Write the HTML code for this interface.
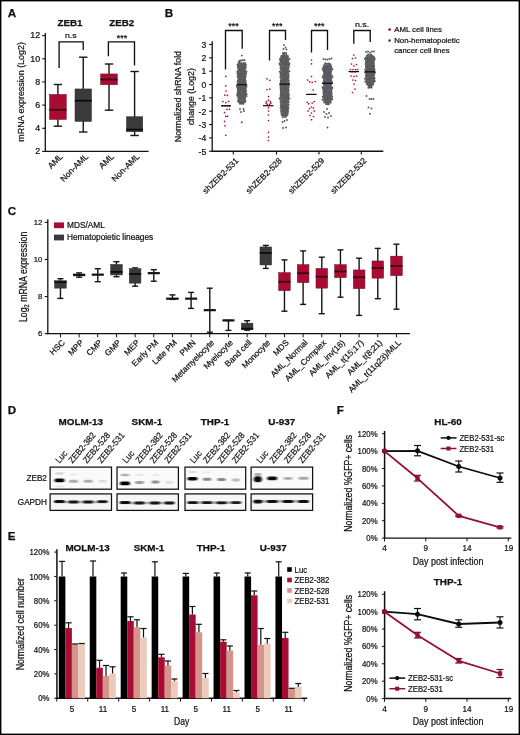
<!DOCTYPE html>
<html lang="en"><head><meta charset="utf-8"><title>Figure</title>
<style>
html,body{margin:0;padding:0;background:#fff}
body{width:520px;height:735px;overflow:hidden;position:relative}
svg{display:block;position:absolute;left:0;top:0;font-family:'Liberation Sans', sans-serif}
text{fill:#111;stroke:#111;stroke-width:.22px}
text.b{font-weight:bold;stroke-width:.25px}
</style></head><body>
<svg width="520" height="735" viewBox="0 0 520 735">
<rect x="0" y="0" width="520" height="735" fill="#fff"/>
<text transform="translate(7.7 17.2)" font-size="11.6" text-anchor="start" class="b">A</text>
<text transform="translate(164.8 17.4)" font-size="11.6" text-anchor="start" class="b">B</text>
<text transform="translate(7.7 214.9)" font-size="11.6" text-anchor="start" class="b">C</text>
<text transform="translate(7.8 413.8)" font-size="11.6" text-anchor="start" class="b">D</text>
<text transform="translate(7.8 540)" font-size="11.6" text-anchor="start" class="b">E</text>
<text transform="translate(336.7 413.6)" font-size="11.6" text-anchor="start" class="b">F</text>
<line x1="45.3" y1="33" x2="45.3" y2="152.1" stroke="#111" stroke-width="1.3"/>
<line x1="44.8" y1="151.45" x2="148.6" y2="151.45" stroke="#111" stroke-width="1.3"/>
<line x1="42.2" y1="35.6" x2="45.3" y2="35.6" stroke="#111" stroke-width="1.1"/>
<text transform="translate(40.1 38.4) scale(1.08 1)" font-size="8.2" text-anchor="end">12</text>
<line x1="42.2" y1="58.77" x2="45.3" y2="58.77" stroke="#111" stroke-width="1.1"/>
<text transform="translate(40.1 61.57) scale(1.08 1)" font-size="8.2" text-anchor="end">10</text>
<line x1="42.2" y1="81.94" x2="45.3" y2="81.94" stroke="#111" stroke-width="1.1"/>
<text transform="translate(40.1 84.74) scale(1.08 1)" font-size="8.2" text-anchor="end">8</text>
<line x1="42.2" y1="105.11" x2="45.3" y2="105.11" stroke="#111" stroke-width="1.1"/>
<text transform="translate(40.1 107.91) scale(1.08 1)" font-size="8.2" text-anchor="end">6</text>
<line x1="42.2" y1="128.28" x2="45.3" y2="128.28" stroke="#111" stroke-width="1.1"/>
<text transform="translate(40.1 131.08) scale(1.08 1)" font-size="8.2" text-anchor="end">4</text>
<line x1="42.2" y1="151.45" x2="45.3" y2="151.45" stroke="#111" stroke-width="1.1"/>
<text transform="translate(40.1 154.25) scale(1.08 1)" font-size="8.2" text-anchor="end">2</text>
<text transform="translate(24.1 91.9) rotate(-90) scale(0.96 1)" font-size="9.3" text-anchor="middle">mRNA expression (Log2)</text>
<text transform="translate(70 26.2)" font-size="9.8" text-anchor="middle" class="b">ZEB1</text>
<text transform="translate(121.7 26.2)" font-size="9.8" text-anchor="middle" class="b">ZEB2</text>
<text transform="translate(70.8 38.2) scale(1.1 1)" font-size="8" text-anchor="middle">n.s</text>
<text transform="translate(122 40.8)" font-size="9" text-anchor="middle">***</text>
<path d="M59.1 68V41.8H83.2V50" fill="none" stroke="#111" stroke-width="1.35"/>
<path d="M108.4 56.2V41.8H134.5V65.5" fill="none" stroke="#111" stroke-width="1.35"/>
<line x1="57.9" y1="84.5" x2="57.9" y2="126.2" stroke="#151515" stroke-width="1.4"/>
<line x1="53.7" y1="84.5" x2="62.1" y2="84.5" stroke="#151515" stroke-width="1.4"/>
<line x1="53.7" y1="126.2" x2="62.1" y2="126.2" stroke="#151515" stroke-width="1.4"/>
<rect x="49.55" y="94.45" width="16.7" height="25" fill="#a90c33" stroke="#7a0a26" stroke-width="0.5"/>
<line x1="49.3" y1="109.8" x2="66.5" y2="109.8" stroke="#3d0612" stroke-width="1.8"/>
<line x1="83.25" y1="57.2" x2="83.25" y2="132" stroke="#151515" stroke-width="1.4"/>
<line x1="79.05" y1="57.2" x2="87.45" y2="57.2" stroke="#151515" stroke-width="1.4"/>
<line x1="79.05" y1="132" x2="87.45" y2="132" stroke="#151515" stroke-width="1.4"/>
<rect x="75" y="88.95" width="16.5" height="32.5" fill="#3a3a3c" stroke="#2c2c2e" stroke-width="0.5"/>
<line x1="74.75" y1="100.7" x2="91.75" y2="100.7" stroke="#0c0c0c" stroke-width="1.8"/>
<line x1="109" y1="64" x2="109" y2="110.2" stroke="#151515" stroke-width="1.4"/>
<line x1="104.8" y1="64" x2="113.2" y2="64" stroke="#151515" stroke-width="1.4"/>
<line x1="104.8" y1="110.2" x2="113.2" y2="110.2" stroke="#151515" stroke-width="1.4"/>
<rect x="100.65" y="73.95" width="16.7" height="10.8" fill="#a90c33" stroke="#7a0a26" stroke-width="0.5"/>
<line x1="100.4" y1="79.5" x2="117.6" y2="79.5" stroke="#3d0612" stroke-width="1.8"/>
<line x1="134.6" y1="71.5" x2="134.6" y2="135.5" stroke="#151515" stroke-width="1.4"/>
<line x1="130.4" y1="71.5" x2="138.8" y2="71.5" stroke="#151515" stroke-width="1.4"/>
<line x1="130.4" y1="135.5" x2="138.8" y2="135.5" stroke="#151515" stroke-width="1.4"/>
<rect x="126.45" y="116.75" width="16.3" height="15" fill="#3a3a3c" stroke="#2c2c2e" stroke-width="0.5"/>
<line x1="126.2" y1="129.6" x2="143" y2="129.6" stroke="#0c0c0c" stroke-width="1.8"/>
<text transform="translate(63.4 157.1) rotate(-45)" font-size="8.4" text-anchor="end">AML</text>
<text transform="translate(88.75 157.1) rotate(-45)" font-size="8.4" text-anchor="end">Non-AML</text>
<text transform="translate(114.5 157.1) rotate(-45)" font-size="8.4" text-anchor="end">AML</text>
<text transform="translate(140.1 157.1) rotate(-45)" font-size="8.4" text-anchor="end">Non-AML</text>
<line x1="212.2" y1="41.3" x2="212.2" y2="151.9" stroke="#111" stroke-width="1.3"/>
<line x1="211.7" y1="151.25" x2="383.3" y2="151.25" stroke="#111" stroke-width="1.3"/>
<line x1="209.1" y1="44.5" x2="212.2" y2="44.5" stroke="#111" stroke-width="1.1"/>
<text transform="translate(206.2 47.8)" font-size="8.6" text-anchor="end">3</text>
<line x1="209.1" y1="57.84" x2="212.2" y2="57.84" stroke="#111" stroke-width="1.1"/>
<text transform="translate(206.2 61.14)" font-size="8.6" text-anchor="end">2</text>
<line x1="209.1" y1="71.19" x2="212.2" y2="71.19" stroke="#111" stroke-width="1.1"/>
<text transform="translate(206.2 74.49)" font-size="8.6" text-anchor="end">1</text>
<line x1="209.1" y1="84.53" x2="212.2" y2="84.53" stroke="#111" stroke-width="1.1"/>
<text transform="translate(206.2 87.83)" font-size="8.6" text-anchor="end">0</text>
<line x1="209.1" y1="97.88" x2="212.2" y2="97.88" stroke="#111" stroke-width="1.1"/>
<text transform="translate(206.2 101.18)" font-size="8.6" text-anchor="end">-1</text>
<line x1="209.1" y1="111.22" x2="212.2" y2="111.22" stroke="#111" stroke-width="1.1"/>
<text transform="translate(206.2 114.52)" font-size="8.6" text-anchor="end">-2</text>
<line x1="209.1" y1="124.56" x2="212.2" y2="124.56" stroke="#111" stroke-width="1.1"/>
<text transform="translate(206.2 127.86)" font-size="8.6" text-anchor="end">-3</text>
<line x1="209.1" y1="137.91" x2="212.2" y2="137.91" stroke="#111" stroke-width="1.1"/>
<text transform="translate(206.2 141.21)" font-size="8.6" text-anchor="end">-4</text>
<line x1="209.1" y1="151.25" x2="212.2" y2="151.25" stroke="#111" stroke-width="1.1"/>
<text transform="translate(206.2 154.55)" font-size="8.6" text-anchor="end">-5</text>
<text transform="translate(181 96.6) rotate(-90) scale(0.95 1)" font-size="9.3" text-anchor="middle">Normalized shRNA fold</text>
<text transform="translate(193.9 96.6) rotate(-90) scale(0.95 1)" font-size="9.3" text-anchor="middle">change (Log2)</text>
<line x1="233.3" y1="151.25" x2="233.3" y2="154.6" stroke="#111" stroke-width="1.1"/>
<text transform="translate(239.1 161.3) rotate(-45)" font-size="8.4" text-anchor="end">shZEB2-531</text>
<line x1="276.5" y1="151.25" x2="276.5" y2="154.6" stroke="#111" stroke-width="1.1"/>
<text transform="translate(282.3 161.3) rotate(-45)" font-size="8.4" text-anchor="end">shZEB2-528</text>
<line x1="319" y1="151.25" x2="319" y2="154.6" stroke="#111" stroke-width="1.1"/>
<text transform="translate(324.8 161.3) rotate(-45)" font-size="8.4" text-anchor="end">shZEB2-529</text>
<line x1="361.3" y1="151.25" x2="361.3" y2="154.6" stroke="#111" stroke-width="1.1"/>
<text transform="translate(367.1 161.3) rotate(-45)" font-size="8.4" text-anchor="end">shZEB2-532</text>
<path d="M225.5 69.5V30.5H242.2V48.8" fill="none" stroke="#111" stroke-width="1.35"/>
<path d="M269.5 60.5V30.5H285.5V40" fill="none" stroke="#111" stroke-width="1.35"/>
<path d="M311.5 52.5V30.5H327.5V50" fill="none" stroke="#111" stroke-width="1.35"/>
<path d="M353.8 43.8V30.5H370.2V42" fill="none" stroke="#111" stroke-width="1.35"/>
<text transform="translate(233.6 29.4)" font-size="9" text-anchor="middle">***</text>
<text transform="translate(277.2 29.4)" font-size="9" text-anchor="middle">***</text>
<text transform="translate(319.2 29.4)" font-size="9" text-anchor="middle">***</text>
<text transform="translate(362 26.9) scale(1.1 1)" font-size="8" text-anchor="middle">n.s.</text>
<circle cx="389.6" cy="29.6" r="1.35" fill="#a90c33"/>
<circle cx="389.6" cy="40.6" r="1.35" fill="#4a4b4e"/>
<text transform="translate(394.2 32.3)" font-size="7.8" text-anchor="start">AML cell lines</text>
<text transform="translate(394.2 43.3)" font-size="7.8" text-anchor="start">Non-hematopoietic</text>
<text transform="translate(394.2 52.7)" font-size="7.8" text-anchor="start">cancer cell lines</text>
<path d="M224.95 76.3a0.85 0.85 0 1 0 1.7 0a0.85 0.85 0 1 0 -1.7 0zM224.95 85.8a0.85 0.85 0 1 0 1.7 0a0.85 0.85 0 1 0 -1.7 0zM225.15 91a0.85 0.85 0 1 0 1.7 0a0.85 0.85 0 1 0 -1.7 0zM223.95 95.1a0.85 0.85 0 1 0 1.7 0a0.85 0.85 0 1 0 -1.7 0zM226.55 95.4a0.85 0.85 0 1 0 1.7 0a0.85 0.85 0 1 0 -1.7 0zM222.05 101.5a0.85 0.85 0 1 0 1.7 0a0.85 0.85 0 1 0 -1.7 0zM224.95 102.6a0.85 0.85 0 1 0 1.7 0a0.85 0.85 0 1 0 -1.7 0zM227.85 101.3a0.85 0.85 0 1 0 1.7 0a0.85 0.85 0 1 0 -1.7 0zM221.65 106a0.85 0.85 0 1 0 1.7 0a0.85 0.85 0 1 0 -1.7 0zM224.15 106a0.85 0.85 0 1 0 1.7 0a0.85 0.85 0 1 0 -1.7 0zM226.65 106a0.85 0.85 0 1 0 1.7 0a0.85 0.85 0 1 0 -1.7 0zM228.65 106a0.85 0.85 0 1 0 1.7 0a0.85 0.85 0 1 0 -1.7 0zM226.15 109.3a0.85 0.85 0 1 0 1.7 0a0.85 0.85 0 1 0 -1.7 0zM228.65 109.3a0.85 0.85 0 1 0 1.7 0a0.85 0.85 0 1 0 -1.7 0zM223.65 112.5a0.85 0.85 0 1 0 1.7 0a0.85 0.85 0 1 0 -1.7 0zM224.95 116.3a0.85 0.85 0 1 0 1.7 0a0.85 0.85 0 1 0 -1.7 0zM226.65 116.3a0.85 0.85 0 1 0 1.7 0a0.85 0.85 0 1 0 -1.7 0zM223.65 121.3a0.85 0.85 0 1 0 1.7 0a0.85 0.85 0 1 0 -1.7 0zM224.15 125.8a0.85 0.85 0 1 0 1.7 0a0.85 0.85 0 1 0 -1.7 0zM224.95 135.3a0.85 0.85 0 1 0 1.7 0a0.85 0.85 0 1 0 -1.7 0z" fill="#a90c33"/>
<rect x="237.6" y="64" width="8.4" height="39.5" rx="2.5" fill="#66676a" opacity="0.85"/>
<path d="M238.25 60.59a0.95 0.95 0 1 0 1.9 0a0.95 0.95 0 1 0 -1.9 0zM239.83 60.52a0.95 0.95 0 1 0 1.9 0a0.95 0.95 0 1 0 -1.9 0zM241.59 60.23a0.95 0.95 0 1 0 1.9 0a0.95 0.95 0 1 0 -1.9 0zM243.28 60.22a0.95 0.95 0 1 0 1.9 0a0.95 0.95 0 1 0 -1.9 0zM237.39 62.75a0.95 0.95 0 1 0 1.9 0a0.95 0.95 0 1 0 -1.9 0zM239.19 63.2a0.95 0.95 0 1 0 1.9 0a0.95 0.95 0 1 0 -1.9 0zM240.66 62.83a0.95 0.95 0 1 0 1.9 0a0.95 0.95 0 1 0 -1.9 0zM242.53 63.27a0.95 0.95 0 1 0 1.9 0a0.95 0.95 0 1 0 -1.9 0zM244.13 62.94a0.95 0.95 0 1 0 1.9 0a0.95 0.95 0 1 0 -1.9 0zM236.57 64.72a0.95 0.95 0 1 0 1.9 0a0.95 0.95 0 1 0 -1.9 0zM238.31 64.29a0.95 0.95 0 1 0 1.9 0a0.95 0.95 0 1 0 -1.9 0zM239.85 64.39a0.95 0.95 0 1 0 1.9 0a0.95 0.95 0 1 0 -1.9 0zM241.82 64.31a0.95 0.95 0 1 0 1.9 0a0.95 0.95 0 1 0 -1.9 0zM243.32 64.58a0.95 0.95 0 1 0 1.9 0a0.95 0.95 0 1 0 -1.9 0zM244.84 64.53a0.95 0.95 0 1 0 1.9 0a0.95 0.95 0 1 0 -1.9 0zM237.39 65.82a0.95 0.95 0 1 0 1.9 0a0.95 0.95 0 1 0 -1.9 0zM239.32 65.96a0.95 0.95 0 1 0 1.9 0a0.95 0.95 0 1 0 -1.9 0zM240.76 66.05a0.95 0.95 0 1 0 1.9 0a0.95 0.95 0 1 0 -1.9 0zM242.45 65.88a0.95 0.95 0 1 0 1.9 0a0.95 0.95 0 1 0 -1.9 0zM244.24 66.12a0.95 0.95 0 1 0 1.9 0a0.95 0.95 0 1 0 -1.9 0zM236.84 66.02a0.95 0.95 0 1 0 1.9 0a0.95 0.95 0 1 0 -1.9 0zM238.61 66.14a0.95 0.95 0 1 0 1.9 0a0.95 0.95 0 1 0 -1.9 0zM239.93 66.29a0.95 0.95 0 1 0 1.9 0a0.95 0.95 0 1 0 -1.9 0zM241.47 65.95a0.95 0.95 0 1 0 1.9 0a0.95 0.95 0 1 0 -1.9 0zM243.41 65.79a0.95 0.95 0 1 0 1.9 0a0.95 0.95 0 1 0 -1.9 0zM244.89 65.72a0.95 0.95 0 1 0 1.9 0a0.95 0.95 0 1 0 -1.9 0zM236.93 67.54a0.95 0.95 0 1 0 1.9 0a0.95 0.95 0 1 0 -1.9 0zM238.61 67.39a0.95 0.95 0 1 0 1.9 0a0.95 0.95 0 1 0 -1.9 0zM240.14 67.56a0.95 0.95 0 1 0 1.9 0a0.95 0.95 0 1 0 -1.9 0zM241.7 67.47a0.95 0.95 0 1 0 1.9 0a0.95 0.95 0 1 0 -1.9 0zM243.45 67.77a0.95 0.95 0 1 0 1.9 0a0.95 0.95 0 1 0 -1.9 0zM244.89 67.6a0.95 0.95 0 1 0 1.9 0a0.95 0.95 0 1 0 -1.9 0zM237.71 69.09a0.95 0.95 0 1 0 1.9 0a0.95 0.95 0 1 0 -1.9 0zM239.48 69.19a0.95 0.95 0 1 0 1.9 0a0.95 0.95 0 1 0 -1.9 0zM240.74 68.93a0.95 0.95 0 1 0 1.9 0a0.95 0.95 0 1 0 -1.9 0zM242.55 68.71a0.95 0.95 0 1 0 1.9 0a0.95 0.95 0 1 0 -1.9 0zM244.07 68.8a0.95 0.95 0 1 0 1.9 0a0.95 0.95 0 1 0 -1.9 0zM237.39 70.66a0.95 0.95 0 1 0 1.9 0a0.95 0.95 0 1 0 -1.9 0zM239.04 70.35a0.95 0.95 0 1 0 1.9 0a0.95 0.95 0 1 0 -1.9 0zM240.8 70.72a0.95 0.95 0 1 0 1.9 0a0.95 0.95 0 1 0 -1.9 0zM242.26 70.47a0.95 0.95 0 1 0 1.9 0a0.95 0.95 0 1 0 -1.9 0zM244.11 70.73a0.95 0.95 0 1 0 1.9 0a0.95 0.95 0 1 0 -1.9 0zM236.17 71.87a0.95 0.95 0 1 0 1.9 0a0.95 0.95 0 1 0 -1.9 0zM237.57 71.92a0.95 0.95 0 1 0 1.9 0a0.95 0.95 0 1 0 -1.9 0zM239.42 72.27a0.95 0.95 0 1 0 1.9 0a0.95 0.95 0 1 0 -1.9 0zM240.68 71.81a0.95 0.95 0 1 0 1.9 0a0.95 0.95 0 1 0 -1.9 0zM242.34 71.84a0.95 0.95 0 1 0 1.9 0a0.95 0.95 0 1 0 -1.9 0zM244.08 72.05a0.95 0.95 0 1 0 1.9 0a0.95 0.95 0 1 0 -1.9 0zM245.59 71.7a0.95 0.95 0 1 0 1.9 0a0.95 0.95 0 1 0 -1.9 0zM236.73 73.54a0.95 0.95 0 1 0 1.9 0a0.95 0.95 0 1 0 -1.9 0zM238.65 73.61a0.95 0.95 0 1 0 1.9 0a0.95 0.95 0 1 0 -1.9 0zM240.05 73.57a0.95 0.95 0 1 0 1.9 0a0.95 0.95 0 1 0 -1.9 0zM241.75 73.23a0.95 0.95 0 1 0 1.9 0a0.95 0.95 0 1 0 -1.9 0zM243.48 73.67a0.95 0.95 0 1 0 1.9 0a0.95 0.95 0 1 0 -1.9 0zM245.09 73.68a0.95 0.95 0 1 0 1.9 0a0.95 0.95 0 1 0 -1.9 0zM236.75 74.76a0.95 0.95 0 1 0 1.9 0a0.95 0.95 0 1 0 -1.9 0zM238.49 74.74a0.95 0.95 0 1 0 1.9 0a0.95 0.95 0 1 0 -1.9 0zM239.82 74.83a0.95 0.95 0 1 0 1.9 0a0.95 0.95 0 1 0 -1.9 0zM241.49 74.9a0.95 0.95 0 1 0 1.9 0a0.95 0.95 0 1 0 -1.9 0zM243.06 74.7a0.95 0.95 0 1 0 1.9 0a0.95 0.95 0 1 0 -1.9 0zM244.73 74.76a0.95 0.95 0 1 0 1.9 0a0.95 0.95 0 1 0 -1.9 0zM236.56 76.72a0.95 0.95 0 1 0 1.9 0a0.95 0.95 0 1 0 -1.9 0zM238.48 76.29a0.95 0.95 0 1 0 1.9 0a0.95 0.95 0 1 0 -1.9 0zM239.92 76.41a0.95 0.95 0 1 0 1.9 0a0.95 0.95 0 1 0 -1.9 0zM241.59 76.27a0.95 0.95 0 1 0 1.9 0a0.95 0.95 0 1 0 -1.9 0zM243.45 76.8a0.95 0.95 0 1 0 1.9 0a0.95 0.95 0 1 0 -1.9 0zM244.88 76.49a0.95 0.95 0 1 0 1.9 0a0.95 0.95 0 1 0 -1.9 0zM237.41 77.91a0.95 0.95 0 1 0 1.9 0a0.95 0.95 0 1 0 -1.9 0zM239.11 78.2a0.95 0.95 0 1 0 1.9 0a0.95 0.95 0 1 0 -1.9 0zM240.68 77.71a0.95 0.95 0 1 0 1.9 0a0.95 0.95 0 1 0 -1.9 0zM242.7 78.02a0.95 0.95 0 1 0 1.9 0a0.95 0.95 0 1 0 -1.9 0zM243.91 78.03a0.95 0.95 0 1 0 1.9 0a0.95 0.95 0 1 0 -1.9 0zM237.62 79.79a0.95 0.95 0 1 0 1.9 0a0.95 0.95 0 1 0 -1.9 0zM239.41 79.62a0.95 0.95 0 1 0 1.9 0a0.95 0.95 0 1 0 -1.9 0zM240.73 79.42a0.95 0.95 0 1 0 1.9 0a0.95 0.95 0 1 0 -1.9 0zM242.3 79.66a0.95 0.95 0 1 0 1.9 0a0.95 0.95 0 1 0 -1.9 0zM244.11 79.67a0.95 0.95 0 1 0 1.9 0a0.95 0.95 0 1 0 -1.9 0zM236.66 81.19a0.95 0.95 0 1 0 1.9 0a0.95 0.95 0 1 0 -1.9 0zM238.66 81.21a0.95 0.95 0 1 0 1.9 0a0.95 0.95 0 1 0 -1.9 0zM240.19 81.19a0.95 0.95 0 1 0 1.9 0a0.95 0.95 0 1 0 -1.9 0zM241.78 80.84a0.95 0.95 0 1 0 1.9 0a0.95 0.95 0 1 0 -1.9 0zM243.29 80.91a0.95 0.95 0 1 0 1.9 0a0.95 0.95 0 1 0 -1.9 0zM244.66 80.72a0.95 0.95 0 1 0 1.9 0a0.95 0.95 0 1 0 -1.9 0zM236.68 82.62a0.95 0.95 0 1 0 1.9 0a0.95 0.95 0 1 0 -1.9 0zM238.65 82.47a0.95 0.95 0 1 0 1.9 0a0.95 0.95 0 1 0 -1.9 0zM240.26 82.79a0.95 0.95 0 1 0 1.9 0a0.95 0.95 0 1 0 -1.9 0zM241.89 82.42a0.95 0.95 0 1 0 1.9 0a0.95 0.95 0 1 0 -1.9 0zM243.14 82.34a0.95 0.95 0 1 0 1.9 0a0.95 0.95 0 1 0 -1.9 0zM244.75 82.32a0.95 0.95 0 1 0 1.9 0a0.95 0.95 0 1 0 -1.9 0zM237 84.2a0.95 0.95 0 1 0 1.9 0a0.95 0.95 0 1 0 -1.9 0zM238.41 84.09a0.95 0.95 0 1 0 1.9 0a0.95 0.95 0 1 0 -1.9 0zM240.19 83.75a0.95 0.95 0 1 0 1.9 0a0.95 0.95 0 1 0 -1.9 0zM241.74 84.25a0.95 0.95 0 1 0 1.9 0a0.95 0.95 0 1 0 -1.9 0zM243.42 84.15a0.95 0.95 0 1 0 1.9 0a0.95 0.95 0 1 0 -1.9 0zM244.89 83.81a0.95 0.95 0 1 0 1.9 0a0.95 0.95 0 1 0 -1.9 0zM235.91 85.68a0.95 0.95 0 1 0 1.9 0a0.95 0.95 0 1 0 -1.9 0zM237.85 85.44a0.95 0.95 0 1 0 1.9 0a0.95 0.95 0 1 0 -1.9 0zM239.18 85.77a0.95 0.95 0 1 0 1.9 0a0.95 0.95 0 1 0 -1.9 0zM240.96 85.3a0.95 0.95 0 1 0 1.9 0a0.95 0.95 0 1 0 -1.9 0zM242.28 85.29a0.95 0.95 0 1 0 1.9 0a0.95 0.95 0 1 0 -1.9 0zM244.29 85.68a0.95 0.95 0 1 0 1.9 0a0.95 0.95 0 1 0 -1.9 0zM245.53 85.7a0.95 0.95 0 1 0 1.9 0a0.95 0.95 0 1 0 -1.9 0zM236.07 86.91a0.95 0.95 0 1 0 1.9 0a0.95 0.95 0 1 0 -1.9 0zM237.63 86.78a0.95 0.95 0 1 0 1.9 0a0.95 0.95 0 1 0 -1.9 0zM238.99 87.28a0.95 0.95 0 1 0 1.9 0a0.95 0.95 0 1 0 -1.9 0zM240.92 87.02a0.95 0.95 0 1 0 1.9 0a0.95 0.95 0 1 0 -1.9 0zM242.69 86.96a0.95 0.95 0 1 0 1.9 0a0.95 0.95 0 1 0 -1.9 0zM244.28 87.2a0.95 0.95 0 1 0 1.9 0a0.95 0.95 0 1 0 -1.9 0zM245.57 86.85a0.95 0.95 0 1 0 1.9 0a0.95 0.95 0 1 0 -1.9 0zM236.67 88.55a0.95 0.95 0 1 0 1.9 0a0.95 0.95 0 1 0 -1.9 0zM238.3 88.45a0.95 0.95 0 1 0 1.9 0a0.95 0.95 0 1 0 -1.9 0zM239.86 88.75a0.95 0.95 0 1 0 1.9 0a0.95 0.95 0 1 0 -1.9 0zM241.59 88.47a0.95 0.95 0 1 0 1.9 0a0.95 0.95 0 1 0 -1.9 0zM243.32 88.74a0.95 0.95 0 1 0 1.9 0a0.95 0.95 0 1 0 -1.9 0zM244.86 88.75a0.95 0.95 0 1 0 1.9 0a0.95 0.95 0 1 0 -1.9 0zM236.82 90.01a0.95 0.95 0 1 0 1.9 0a0.95 0.95 0 1 0 -1.9 0zM238.18 89.96a0.95 0.95 0 1 0 1.9 0a0.95 0.95 0 1 0 -1.9 0zM239.88 89.7a0.95 0.95 0 1 0 1.9 0a0.95 0.95 0 1 0 -1.9 0zM241.81 89.8a0.95 0.95 0 1 0 1.9 0a0.95 0.95 0 1 0 -1.9 0zM243.27 90.14a0.95 0.95 0 1 0 1.9 0a0.95 0.95 0 1 0 -1.9 0zM244.93 89.9a0.95 0.95 0 1 0 1.9 0a0.95 0.95 0 1 0 -1.9 0zM236.83 91.67a0.95 0.95 0 1 0 1.9 0a0.95 0.95 0 1 0 -1.9 0zM238.22 91.54a0.95 0.95 0 1 0 1.9 0a0.95 0.95 0 1 0 -1.9 0zM239.91 91.37a0.95 0.95 0 1 0 1.9 0a0.95 0.95 0 1 0 -1.9 0zM241.8 91.5a0.95 0.95 0 1 0 1.9 0a0.95 0.95 0 1 0 -1.9 0zM243.31 91.66a0.95 0.95 0 1 0 1.9 0a0.95 0.95 0 1 0 -1.9 0zM245.11 91.47a0.95 0.95 0 1 0 1.9 0a0.95 0.95 0 1 0 -1.9 0zM236.8 93.01a0.95 0.95 0 1 0 1.9 0a0.95 0.95 0 1 0 -1.9 0zM238.52 92.97a0.95 0.95 0 1 0 1.9 0a0.95 0.95 0 1 0 -1.9 0zM240.06 92.99a0.95 0.95 0 1 0 1.9 0a0.95 0.95 0 1 0 -1.9 0zM241.88 93.12a0.95 0.95 0 1 0 1.9 0a0.95 0.95 0 1 0 -1.9 0zM243.47 93.27a0.95 0.95 0 1 0 1.9 0a0.95 0.95 0 1 0 -1.9 0zM244.78 93.04a0.95 0.95 0 1 0 1.9 0a0.95 0.95 0 1 0 -1.9 0zM236.16 94.28a0.95 0.95 0 1 0 1.9 0a0.95 0.95 0 1 0 -1.9 0zM237.42 94.47a0.95 0.95 0 1 0 1.9 0a0.95 0.95 0 1 0 -1.9 0zM239.02 94.34a0.95 0.95 0 1 0 1.9 0a0.95 0.95 0 1 0 -1.9 0zM240.64 94.6a0.95 0.95 0 1 0 1.9 0a0.95 0.95 0 1 0 -1.9 0zM242.61 94.74a0.95 0.95 0 1 0 1.9 0a0.95 0.95 0 1 0 -1.9 0zM243.92 94.63a0.95 0.95 0 1 0 1.9 0a0.95 0.95 0 1 0 -1.9 0zM245.79 94.29a0.95 0.95 0 1 0 1.9 0a0.95 0.95 0 1 0 -1.9 0zM236.22 95.83a0.95 0.95 0 1 0 1.9 0a0.95 0.95 0 1 0 -1.9 0zM237.84 95.94a0.95 0.95 0 1 0 1.9 0a0.95 0.95 0 1 0 -1.9 0zM239.22 96.29a0.95 0.95 0 1 0 1.9 0a0.95 0.95 0 1 0 -1.9 0zM241.02 95.8a0.95 0.95 0 1 0 1.9 0a0.95 0.95 0 1 0 -1.9 0zM242.44 96.01a0.95 0.95 0 1 0 1.9 0a0.95 0.95 0 1 0 -1.9 0zM244.01 95.82a0.95 0.95 0 1 0 1.9 0a0.95 0.95 0 1 0 -1.9 0zM245.62 96.13a0.95 0.95 0 1 0 1.9 0a0.95 0.95 0 1 0 -1.9 0zM237.64 97.46a0.95 0.95 0 1 0 1.9 0a0.95 0.95 0 1 0 -1.9 0zM238.99 97.4a0.95 0.95 0 1 0 1.9 0a0.95 0.95 0 1 0 -1.9 0zM240.91 97.51a0.95 0.95 0 1 0 1.9 0a0.95 0.95 0 1 0 -1.9 0zM242.25 97.79a0.95 0.95 0 1 0 1.9 0a0.95 0.95 0 1 0 -1.9 0zM244.23 97.78a0.95 0.95 0 1 0 1.9 0a0.95 0.95 0 1 0 -1.9 0zM237.49 98.72a0.95 0.95 0 1 0 1.9 0a0.95 0.95 0 1 0 -1.9 0zM239.37 98.86a0.95 0.95 0 1 0 1.9 0a0.95 0.95 0 1 0 -1.9 0zM240.66 98.95a0.95 0.95 0 1 0 1.9 0a0.95 0.95 0 1 0 -1.9 0zM242.68 99.19a0.95 0.95 0 1 0 1.9 0a0.95 0.95 0 1 0 -1.9 0zM243.97 98.79a0.95 0.95 0 1 0 1.9 0a0.95 0.95 0 1 0 -1.9 0zM236.84 101.12a0.95 0.95 0 1 0 1.9 0a0.95 0.95 0 1 0 -1.9 0zM238.21 100.73a0.95 0.95 0 1 0 1.9 0a0.95 0.95 0 1 0 -1.9 0zM240.13 100.96a0.95 0.95 0 1 0 1.9 0a0.95 0.95 0 1 0 -1.9 0zM241.45 101.26a0.95 0.95 0 1 0 1.9 0a0.95 0.95 0 1 0 -1.9 0zM243.35 101.18a0.95 0.95 0 1 0 1.9 0a0.95 0.95 0 1 0 -1.9 0zM244.69 101.21a0.95 0.95 0 1 0 1.9 0a0.95 0.95 0 1 0 -1.9 0zM238.6 102.47a0.95 0.95 0 1 0 1.9 0a0.95 0.95 0 1 0 -1.9 0zM239.96 102.53a0.95 0.95 0 1 0 1.9 0a0.95 0.95 0 1 0 -1.9 0zM241.87 102.36a0.95 0.95 0 1 0 1.9 0a0.95 0.95 0 1 0 -1.9 0zM243.09 102.52a0.95 0.95 0 1 0 1.9 0a0.95 0.95 0 1 0 -1.9 0zM239.03 103.8a0.95 0.95 0 1 0 1.9 0a0.95 0.95 0 1 0 -1.9 0zM240.63 103.82a0.95 0.95 0 1 0 1.9 0a0.95 0.95 0 1 0 -1.9 0zM242.38 103.88a0.95 0.95 0 1 0 1.9 0a0.95 0.95 0 1 0 -1.9 0zM240.85 55.5a0.95 0.95 0 1 0 1.9 0a0.95 0.95 0 1 0 -1.9 0zM239.05 109a0.95 0.95 0 1 0 1.9 0a0.95 0.95 0 1 0 -1.9 0zM242.55 109a0.95 0.95 0 1 0 1.9 0a0.95 0.95 0 1 0 -1.9 0zM240.05 112a0.95 0.95 0 1 0 1.9 0a0.95 0.95 0 1 0 -1.9 0zM243.05 111a0.95 0.95 0 1 0 1.9 0a0.95 0.95 0 1 0 -1.9 0zM240.85 122.3a0.95 0.95 0 1 0 1.9 0a0.95 0.95 0 1 0 -1.9 0zM238.55 62a0.95 0.95 0 1 0 1.9 0a0.95 0.95 0 1 0 -1.9 0zM243.55 60a0.95 0.95 0 1 0 1.9 0a0.95 0.95 0 1 0 -1.9 0z" fill="#58595c"/>
<line x1="221" y1="105.7" x2="231" y2="105.7" stroke="#14080b" stroke-width="1.2"/>
<line x1="236.6" y1="84.6" x2="247" y2="84.6" stroke="#111" stroke-width="1.35"/>
<path d="M266.15 78.8a0.85 0.85 0 1 0 1.7 0a0.85 0.85 0 1 0 -1.7 0zM269.05 80.3a0.85 0.85 0 1 0 1.7 0a0.85 0.85 0 1 0 -1.7 0zM266.15 89.5a0.85 0.85 0 1 0 1.7 0a0.85 0.85 0 1 0 -1.7 0zM269.05 89.2a0.85 0.85 0 1 0 1.7 0a0.85 0.85 0 1 0 -1.7 0zM267.65 96.6a0.85 0.85 0 1 0 1.7 0a0.85 0.85 0 1 0 -1.7 0zM267.65 100.2a0.85 0.85 0 1 0 1.7 0a0.85 0.85 0 1 0 -1.7 0zM265.65 101.5a0.85 0.85 0 1 0 1.7 0a0.85 0.85 0 1 0 -1.7 0zM269.55 101.5a0.85 0.85 0 1 0 1.7 0a0.85 0.85 0 1 0 -1.7 0zM265.15 103.1a0.85 0.85 0 1 0 1.7 0a0.85 0.85 0 1 0 -1.7 0zM270.05 103.1a0.85 0.85 0 1 0 1.7 0a0.85 0.85 0 1 0 -1.7 0zM266.45 104.3a0.85 0.85 0 1 0 1.7 0a0.85 0.85 0 1 0 -1.7 0zM268.75 104.3a0.85 0.85 0 1 0 1.7 0a0.85 0.85 0 1 0 -1.7 0zM267.65 107.7a0.85 0.85 0 1 0 1.7 0a0.85 0.85 0 1 0 -1.7 0zM267.65 111a0.85 0.85 0 1 0 1.7 0a0.85 0.85 0 1 0 -1.7 0zM267.65 115a0.85 0.85 0 1 0 1.7 0a0.85 0.85 0 1 0 -1.7 0zM267.65 120.5a0.85 0.85 0 1 0 1.7 0a0.85 0.85 0 1 0 -1.7 0zM267.65 132.3a0.85 0.85 0 1 0 1.7 0a0.85 0.85 0 1 0 -1.7 0zM267.65 137a0.85 0.85 0 1 0 1.7 0a0.85 0.85 0 1 0 -1.7 0zM267.65 140.5a0.85 0.85 0 1 0 1.7 0a0.85 0.85 0 1 0 -1.7 0z" fill="#a90c33"/>
<rect x="280.4" y="55" width="8.4" height="61" rx="2.5" fill="#66676a" opacity="0.85"/>
<path d="M281.92 53a0.95 0.95 0 1 0 1.9 0a0.95 0.95 0 1 0 -1.9 0zM283.49 52.91a0.95 0.95 0 1 0 1.9 0a0.95 0.95 0 1 0 -1.9 0zM285.03 52.85a0.95 0.95 0 1 0 1.9 0a0.95 0.95 0 1 0 -1.9 0zM282.15 54.53a0.95 0.95 0 1 0 1.9 0a0.95 0.95 0 1 0 -1.9 0zM283.49 54.48a0.95 0.95 0 1 0 1.9 0a0.95 0.95 0 1 0 -1.9 0zM285.49 54.26a0.95 0.95 0 1 0 1.9 0a0.95 0.95 0 1 0 -1.9 0zM280.38 56a0.95 0.95 0 1 0 1.9 0a0.95 0.95 0 1 0 -1.9 0zM282.2 55.94a0.95 0.95 0 1 0 1.9 0a0.95 0.95 0 1 0 -1.9 0zM283.65 56.11a0.95 0.95 0 1 0 1.9 0a0.95 0.95 0 1 0 -1.9 0zM285.51 55.91a0.95 0.95 0 1 0 1.9 0a0.95 0.95 0 1 0 -1.9 0zM287.06 56.12a0.95 0.95 0 1 0 1.9 0a0.95 0.95 0 1 0 -1.9 0zM280.36 57.41a0.95 0.95 0 1 0 1.9 0a0.95 0.95 0 1 0 -1.9 0zM281.81 57.28a0.95 0.95 0 1 0 1.9 0a0.95 0.95 0 1 0 -1.9 0zM283.44 57.64a0.95 0.95 0 1 0 1.9 0a0.95 0.95 0 1 0 -1.9 0zM285.15 57.3a0.95 0.95 0 1 0 1.9 0a0.95 0.95 0 1 0 -1.9 0zM286.68 57.7a0.95 0.95 0 1 0 1.9 0a0.95 0.95 0 1 0 -1.9 0zM278.88 58.87a0.95 0.95 0 1 0 1.9 0a0.95 0.95 0 1 0 -1.9 0zM280.28 58.88a0.95 0.95 0 1 0 1.9 0a0.95 0.95 0 1 0 -1.9 0zM282.01 58.79a0.95 0.95 0 1 0 1.9 0a0.95 0.95 0 1 0 -1.9 0zM283.62 58.86a0.95 0.95 0 1 0 1.9 0a0.95 0.95 0 1 0 -1.9 0zM285.5 59.28a0.95 0.95 0 1 0 1.9 0a0.95 0.95 0 1 0 -1.9 0zM286.91 58.85a0.95 0.95 0 1 0 1.9 0a0.95 0.95 0 1 0 -1.9 0zM288.74 58.89a0.95 0.95 0 1 0 1.9 0a0.95 0.95 0 1 0 -1.9 0zM279.35 60.43a0.95 0.95 0 1 0 1.9 0a0.95 0.95 0 1 0 -1.9 0zM281.21 60.5a0.95 0.95 0 1 0 1.9 0a0.95 0.95 0 1 0 -1.9 0zM282.69 60.5a0.95 0.95 0 1 0 1.9 0a0.95 0.95 0 1 0 -1.9 0zM284.21 60.36a0.95 0.95 0 1 0 1.9 0a0.95 0.95 0 1 0 -1.9 0zM285.87 60.44a0.95 0.95 0 1 0 1.9 0a0.95 0.95 0 1 0 -1.9 0zM287.47 60.21a0.95 0.95 0 1 0 1.9 0a0.95 0.95 0 1 0 -1.9 0zM279.47 62.05a0.95 0.95 0 1 0 1.9 0a0.95 0.95 0 1 0 -1.9 0zM281.23 62.15a0.95 0.95 0 1 0 1.9 0a0.95 0.95 0 1 0 -1.9 0zM282.92 62.13a0.95 0.95 0 1 0 1.9 0a0.95 0.95 0 1 0 -1.9 0zM284.65 61.93a0.95 0.95 0 1 0 1.9 0a0.95 0.95 0 1 0 -1.9 0zM285.99 62.29a0.95 0.95 0 1 0 1.9 0a0.95 0.95 0 1 0 -1.9 0zM287.52 62.13a0.95 0.95 0 1 0 1.9 0a0.95 0.95 0 1 0 -1.9 0zM278.56 63.7a0.95 0.95 0 1 0 1.9 0a0.95 0.95 0 1 0 -1.9 0zM280.61 63.58a0.95 0.95 0 1 0 1.9 0a0.95 0.95 0 1 0 -1.9 0zM282.15 63.69a0.95 0.95 0 1 0 1.9 0a0.95 0.95 0 1 0 -1.9 0zM283.47 63.51a0.95 0.95 0 1 0 1.9 0a0.95 0.95 0 1 0 -1.9 0zM285.27 63.7a0.95 0.95 0 1 0 1.9 0a0.95 0.95 0 1 0 -1.9 0zM287.04 63.7a0.95 0.95 0 1 0 1.9 0a0.95 0.95 0 1 0 -1.9 0zM288.55 63.74a0.95 0.95 0 1 0 1.9 0a0.95 0.95 0 1 0 -1.9 0zM278.89 64.84a0.95 0.95 0 1 0 1.9 0a0.95 0.95 0 1 0 -1.9 0zM280.18 64.78a0.95 0.95 0 1 0 1.9 0a0.95 0.95 0 1 0 -1.9 0zM281.96 64.76a0.95 0.95 0 1 0 1.9 0a0.95 0.95 0 1 0 -1.9 0zM283.82 65.04a0.95 0.95 0 1 0 1.9 0a0.95 0.95 0 1 0 -1.9 0zM285.33 65.08a0.95 0.95 0 1 0 1.9 0a0.95 0.95 0 1 0 -1.9 0zM286.98 64.99a0.95 0.95 0 1 0 1.9 0a0.95 0.95 0 1 0 -1.9 0zM288.26 65.18a0.95 0.95 0 1 0 1.9 0a0.95 0.95 0 1 0 -1.9 0zM279.6 67.02a0.95 0.95 0 1 0 1.9 0a0.95 0.95 0 1 0 -1.9 0zM281.3 66.74a0.95 0.95 0 1 0 1.9 0a0.95 0.95 0 1 0 -1.9 0zM282.96 66.85a0.95 0.95 0 1 0 1.9 0a0.95 0.95 0 1 0 -1.9 0zM284.25 66.86a0.95 0.95 0 1 0 1.9 0a0.95 0.95 0 1 0 -1.9 0zM286.19 66.82a0.95 0.95 0 1 0 1.9 0a0.95 0.95 0 1 0 -1.9 0zM287.82 67.29a0.95 0.95 0 1 0 1.9 0a0.95 0.95 0 1 0 -1.9 0zM279.54 68.49a0.95 0.95 0 1 0 1.9 0a0.95 0.95 0 1 0 -1.9 0zM281.31 68.66a0.95 0.95 0 1 0 1.9 0a0.95 0.95 0 1 0 -1.9 0zM282.9 68.59a0.95 0.95 0 1 0 1.9 0a0.95 0.95 0 1 0 -1.9 0zM284.25 68.29a0.95 0.95 0 1 0 1.9 0a0.95 0.95 0 1 0 -1.9 0zM285.96 68.65a0.95 0.95 0 1 0 1.9 0a0.95 0.95 0 1 0 -1.9 0zM287.6 68.54a0.95 0.95 0 1 0 1.9 0a0.95 0.95 0 1 0 -1.9 0zM280.19 69.86a0.95 0.95 0 1 0 1.9 0a0.95 0.95 0 1 0 -1.9 0zM282.12 70.12a0.95 0.95 0 1 0 1.9 0a0.95 0.95 0 1 0 -1.9 0zM283.74 69.87a0.95 0.95 0 1 0 1.9 0a0.95 0.95 0 1 0 -1.9 0zM285.28 69.98a0.95 0.95 0 1 0 1.9 0a0.95 0.95 0 1 0 -1.9 0zM286.87 69.77a0.95 0.95 0 1 0 1.9 0a0.95 0.95 0 1 0 -1.9 0zM278.64 71.79a0.95 0.95 0 1 0 1.9 0a0.95 0.95 0 1 0 -1.9 0zM280.63 71.21a0.95 0.95 0 1 0 1.9 0a0.95 0.95 0 1 0 -1.9 0zM282.01 71.69a0.95 0.95 0 1 0 1.9 0a0.95 0.95 0 1 0 -1.9 0zM283.88 71.47a0.95 0.95 0 1 0 1.9 0a0.95 0.95 0 1 0 -1.9 0zM285.15 71.33a0.95 0.95 0 1 0 1.9 0a0.95 0.95 0 1 0 -1.9 0zM287.11 71.33a0.95 0.95 0 1 0 1.9 0a0.95 0.95 0 1 0 -1.9 0zM288.55 71.29a0.95 0.95 0 1 0 1.9 0a0.95 0.95 0 1 0 -1.9 0zM279.83 72.78a0.95 0.95 0 1 0 1.9 0a0.95 0.95 0 1 0 -1.9 0zM281.38 73.01a0.95 0.95 0 1 0 1.9 0a0.95 0.95 0 1 0 -1.9 0zM283.03 73.12a0.95 0.95 0 1 0 1.9 0a0.95 0.95 0 1 0 -1.9 0zM284.33 73.24a0.95 0.95 0 1 0 1.9 0a0.95 0.95 0 1 0 -1.9 0zM286.07 72.71a0.95 0.95 0 1 0 1.9 0a0.95 0.95 0 1 0 -1.9 0zM287.45 73a0.95 0.95 0 1 0 1.9 0a0.95 0.95 0 1 0 -1.9 0zM279.5 74.28a0.95 0.95 0 1 0 1.9 0a0.95 0.95 0 1 0 -1.9 0zM281.14 74.39a0.95 0.95 0 1 0 1.9 0a0.95 0.95 0 1 0 -1.9 0zM283.01 74.2a0.95 0.95 0 1 0 1.9 0a0.95 0.95 0 1 0 -1.9 0zM284.59 74.7a0.95 0.95 0 1 0 1.9 0a0.95 0.95 0 1 0 -1.9 0zM285.89 74.76a0.95 0.95 0 1 0 1.9 0a0.95 0.95 0 1 0 -1.9 0zM287.81 74.74a0.95 0.95 0 1 0 1.9 0a0.95 0.95 0 1 0 -1.9 0zM279.54 75.94a0.95 0.95 0 1 0 1.9 0a0.95 0.95 0 1 0 -1.9 0zM281.47 76.05a0.95 0.95 0 1 0 1.9 0a0.95 0.95 0 1 0 -1.9 0zM282.77 75.96a0.95 0.95 0 1 0 1.9 0a0.95 0.95 0 1 0 -1.9 0zM284.35 75.73a0.95 0.95 0 1 0 1.9 0a0.95 0.95 0 1 0 -1.9 0zM285.88 76.2a0.95 0.95 0 1 0 1.9 0a0.95 0.95 0 1 0 -1.9 0zM287.59 76.26a0.95 0.95 0 1 0 1.9 0a0.95 0.95 0 1 0 -1.9 0zM279.48 77.51a0.95 0.95 0 1 0 1.9 0a0.95 0.95 0 1 0 -1.9 0zM281.06 77.42a0.95 0.95 0 1 0 1.9 0a0.95 0.95 0 1 0 -1.9 0zM283.07 77.73a0.95 0.95 0 1 0 1.9 0a0.95 0.95 0 1 0 -1.9 0zM284.62 77.58a0.95 0.95 0 1 0 1.9 0a0.95 0.95 0 1 0 -1.9 0zM286.29 77.76a0.95 0.95 0 1 0 1.9 0a0.95 0.95 0 1 0 -1.9 0zM287.72 77.63a0.95 0.95 0 1 0 1.9 0a0.95 0.95 0 1 0 -1.9 0zM280.53 78.97a0.95 0.95 0 1 0 1.9 0a0.95 0.95 0 1 0 -1.9 0zM282.16 79.09a0.95 0.95 0 1 0 1.9 0a0.95 0.95 0 1 0 -1.9 0zM283.54 78.73a0.95 0.95 0 1 0 1.9 0a0.95 0.95 0 1 0 -1.9 0zM285.48 78.78a0.95 0.95 0 1 0 1.9 0a0.95 0.95 0 1 0 -1.9 0zM286.88 78.91a0.95 0.95 0 1 0 1.9 0a0.95 0.95 0 1 0 -1.9 0zM279.72 80.79a0.95 0.95 0 1 0 1.9 0a0.95 0.95 0 1 0 -1.9 0zM281.1 80.59a0.95 0.95 0 1 0 1.9 0a0.95 0.95 0 1 0 -1.9 0zM282.74 80.53a0.95 0.95 0 1 0 1.9 0a0.95 0.95 0 1 0 -1.9 0zM284.41 80.3a0.95 0.95 0 1 0 1.9 0a0.95 0.95 0 1 0 -1.9 0zM285.91 80.32a0.95 0.95 0 1 0 1.9 0a0.95 0.95 0 1 0 -1.9 0zM287.9 80.5a0.95 0.95 0 1 0 1.9 0a0.95 0.95 0 1 0 -1.9 0zM279.8 82.3a0.95 0.95 0 1 0 1.9 0a0.95 0.95 0 1 0 -1.9 0zM281.19 81.78a0.95 0.95 0 1 0 1.9 0a0.95 0.95 0 1 0 -1.9 0zM282.69 81.75a0.95 0.95 0 1 0 1.9 0a0.95 0.95 0 1 0 -1.9 0zM284.38 81.75a0.95 0.95 0 1 0 1.9 0a0.95 0.95 0 1 0 -1.9 0zM285.95 81.86a0.95 0.95 0 1 0 1.9 0a0.95 0.95 0 1 0 -1.9 0zM287.73 82.23a0.95 0.95 0 1 0 1.9 0a0.95 0.95 0 1 0 -1.9 0zM279.56 83.45a0.95 0.95 0 1 0 1.9 0a0.95 0.95 0 1 0 -1.9 0zM281.23 83.43a0.95 0.95 0 1 0 1.9 0a0.95 0.95 0 1 0 -1.9 0zM282.76 83.24a0.95 0.95 0 1 0 1.9 0a0.95 0.95 0 1 0 -1.9 0zM284.35 83.78a0.95 0.95 0 1 0 1.9 0a0.95 0.95 0 1 0 -1.9 0zM285.89 83.5a0.95 0.95 0 1 0 1.9 0a0.95 0.95 0 1 0 -1.9 0zM287.76 83.72a0.95 0.95 0 1 0 1.9 0a0.95 0.95 0 1 0 -1.9 0zM279.49 84.85a0.95 0.95 0 1 0 1.9 0a0.95 0.95 0 1 0 -1.9 0zM281.17 84.97a0.95 0.95 0 1 0 1.9 0a0.95 0.95 0 1 0 -1.9 0zM283.07 85.21a0.95 0.95 0 1 0 1.9 0a0.95 0.95 0 1 0 -1.9 0zM284.65 84.71a0.95 0.95 0 1 0 1.9 0a0.95 0.95 0 1 0 -1.9 0zM285.85 85.13a0.95 0.95 0 1 0 1.9 0a0.95 0.95 0 1 0 -1.9 0zM287.9 84.98a0.95 0.95 0 1 0 1.9 0a0.95 0.95 0 1 0 -1.9 0zM279.35 86.43a0.95 0.95 0 1 0 1.9 0a0.95 0.95 0 1 0 -1.9 0zM281.43 86.7a0.95 0.95 0 1 0 1.9 0a0.95 0.95 0 1 0 -1.9 0zM283.02 86.78a0.95 0.95 0 1 0 1.9 0a0.95 0.95 0 1 0 -1.9 0zM284.33 86.27a0.95 0.95 0 1 0 1.9 0a0.95 0.95 0 1 0 -1.9 0zM285.91 86.51a0.95 0.95 0 1 0 1.9 0a0.95 0.95 0 1 0 -1.9 0zM287.79 86.76a0.95 0.95 0 1 0 1.9 0a0.95 0.95 0 1 0 -1.9 0zM279.67 88.16a0.95 0.95 0 1 0 1.9 0a0.95 0.95 0 1 0 -1.9 0zM281.2 88.03a0.95 0.95 0 1 0 1.9 0a0.95 0.95 0 1 0 -1.9 0zM282.61 88.17a0.95 0.95 0 1 0 1.9 0a0.95 0.95 0 1 0 -1.9 0zM284.33 88.25a0.95 0.95 0 1 0 1.9 0a0.95 0.95 0 1 0 -1.9 0zM286.15 87.88a0.95 0.95 0 1 0 1.9 0a0.95 0.95 0 1 0 -1.9 0zM287.51 87.85a0.95 0.95 0 1 0 1.9 0a0.95 0.95 0 1 0 -1.9 0zM279.7 89.27a0.95 0.95 0 1 0 1.9 0a0.95 0.95 0 1 0 -1.9 0zM281.01 89.51a0.95 0.95 0 1 0 1.9 0a0.95 0.95 0 1 0 -1.9 0zM282.88 89.43a0.95 0.95 0 1 0 1.9 0a0.95 0.95 0 1 0 -1.9 0zM284.32 89.56a0.95 0.95 0 1 0 1.9 0a0.95 0.95 0 1 0 -1.9 0zM285.84 89.38a0.95 0.95 0 1 0 1.9 0a0.95 0.95 0 1 0 -1.9 0zM287.68 89.78a0.95 0.95 0 1 0 1.9 0a0.95 0.95 0 1 0 -1.9 0zM279.79 90.99a0.95 0.95 0 1 0 1.9 0a0.95 0.95 0 1 0 -1.9 0zM281.09 90.85a0.95 0.95 0 1 0 1.9 0a0.95 0.95 0 1 0 -1.9 0zM283.07 91.12a0.95 0.95 0 1 0 1.9 0a0.95 0.95 0 1 0 -1.9 0zM284.36 90.71a0.95 0.95 0 1 0 1.9 0a0.95 0.95 0 1 0 -1.9 0zM286.08 91.1a0.95 0.95 0 1 0 1.9 0a0.95 0.95 0 1 0 -1.9 0zM287.66 90.85a0.95 0.95 0 1 0 1.9 0a0.95 0.95 0 1 0 -1.9 0zM279.81 92.34a0.95 0.95 0 1 0 1.9 0a0.95 0.95 0 1 0 -1.9 0zM280.99 92.4a0.95 0.95 0 1 0 1.9 0a0.95 0.95 0 1 0 -1.9 0zM282.8 92.61a0.95 0.95 0 1 0 1.9 0a0.95 0.95 0 1 0 -1.9 0zM284.31 92.68a0.95 0.95 0 1 0 1.9 0a0.95 0.95 0 1 0 -1.9 0zM286.2 92.5a0.95 0.95 0 1 0 1.9 0a0.95 0.95 0 1 0 -1.9 0zM287.55 92.78a0.95 0.95 0 1 0 1.9 0a0.95 0.95 0 1 0 -1.9 0zM279.76 93.84a0.95 0.95 0 1 0 1.9 0a0.95 0.95 0 1 0 -1.9 0zM281.08 94.16a0.95 0.95 0 1 0 1.9 0a0.95 0.95 0 1 0 -1.9 0zM282.74 94.27a0.95 0.95 0 1 0 1.9 0a0.95 0.95 0 1 0 -1.9 0zM284.46 93.81a0.95 0.95 0 1 0 1.9 0a0.95 0.95 0 1 0 -1.9 0zM285.94 93.95a0.95 0.95 0 1 0 1.9 0a0.95 0.95 0 1 0 -1.9 0zM287.78 94.27a0.95 0.95 0 1 0 1.9 0a0.95 0.95 0 1 0 -1.9 0zM279.55 95.33a0.95 0.95 0 1 0 1.9 0a0.95 0.95 0 1 0 -1.9 0zM281.46 95.29a0.95 0.95 0 1 0 1.9 0a0.95 0.95 0 1 0 -1.9 0zM282.62 95.24a0.95 0.95 0 1 0 1.9 0a0.95 0.95 0 1 0 -1.9 0zM284.41 95.74a0.95 0.95 0 1 0 1.9 0a0.95 0.95 0 1 0 -1.9 0zM286.27 95.64a0.95 0.95 0 1 0 1.9 0a0.95 0.95 0 1 0 -1.9 0zM287.95 95.76a0.95 0.95 0 1 0 1.9 0a0.95 0.95 0 1 0 -1.9 0zM279.44 97.26a0.95 0.95 0 1 0 1.9 0a0.95 0.95 0 1 0 -1.9 0zM281.34 96.72a0.95 0.95 0 1 0 1.9 0a0.95 0.95 0 1 0 -1.9 0zM282.92 96.93a0.95 0.95 0 1 0 1.9 0a0.95 0.95 0 1 0 -1.9 0zM284.4 96.9a0.95 0.95 0 1 0 1.9 0a0.95 0.95 0 1 0 -1.9 0zM285.91 96.7a0.95 0.95 0 1 0 1.9 0a0.95 0.95 0 1 0 -1.9 0zM287.59 96.91a0.95 0.95 0 1 0 1.9 0a0.95 0.95 0 1 0 -1.9 0zM278.6 98.78a0.95 0.95 0 1 0 1.9 0a0.95 0.95 0 1 0 -1.9 0zM280.26 98.41a0.95 0.95 0 1 0 1.9 0a0.95 0.95 0 1 0 -1.9 0zM282.19 98.69a0.95 0.95 0 1 0 1.9 0a0.95 0.95 0 1 0 -1.9 0zM283.62 98.23a0.95 0.95 0 1 0 1.9 0a0.95 0.95 0 1 0 -1.9 0zM285.26 98.42a0.95 0.95 0 1 0 1.9 0a0.95 0.95 0 1 0 -1.9 0zM287.1 98.32a0.95 0.95 0 1 0 1.9 0a0.95 0.95 0 1 0 -1.9 0zM288.44 98.74a0.95 0.95 0 1 0 1.9 0a0.95 0.95 0 1 0 -1.9 0zM280.37 100.19a0.95 0.95 0 1 0 1.9 0a0.95 0.95 0 1 0 -1.9 0zM282.16 99.72a0.95 0.95 0 1 0 1.9 0a0.95 0.95 0 1 0 -1.9 0zM283.42 99.74a0.95 0.95 0 1 0 1.9 0a0.95 0.95 0 1 0 -1.9 0zM285.48 99.85a0.95 0.95 0 1 0 1.9 0a0.95 0.95 0 1 0 -1.9 0zM287.01 100.24a0.95 0.95 0 1 0 1.9 0a0.95 0.95 0 1 0 -1.9 0zM279.49 101.77a0.95 0.95 0 1 0 1.9 0a0.95 0.95 0 1 0 -1.9 0zM281.28 101.36a0.95 0.95 0 1 0 1.9 0a0.95 0.95 0 1 0 -1.9 0zM282.95 101.39a0.95 0.95 0 1 0 1.9 0a0.95 0.95 0 1 0 -1.9 0zM284.35 101.2a0.95 0.95 0 1 0 1.9 0a0.95 0.95 0 1 0 -1.9 0zM286.21 101.75a0.95 0.95 0 1 0 1.9 0a0.95 0.95 0 1 0 -1.9 0zM287.77 101.77a0.95 0.95 0 1 0 1.9 0a0.95 0.95 0 1 0 -1.9 0zM280.28 102.99a0.95 0.95 0 1 0 1.9 0a0.95 0.95 0 1 0 -1.9 0zM282.26 103.27a0.95 0.95 0 1 0 1.9 0a0.95 0.95 0 1 0 -1.9 0zM283.59 102.85a0.95 0.95 0 1 0 1.9 0a0.95 0.95 0 1 0 -1.9 0zM285.23 103a0.95 0.95 0 1 0 1.9 0a0.95 0.95 0 1 0 -1.9 0zM287.1 102.81a0.95 0.95 0 1 0 1.9 0a0.95 0.95 0 1 0 -1.9 0zM279.72 105.19a0.95 0.95 0 1 0 1.9 0a0.95 0.95 0 1 0 -1.9 0zM281.36 105.06a0.95 0.95 0 1 0 1.9 0a0.95 0.95 0 1 0 -1.9 0zM282.75 104.89a0.95 0.95 0 1 0 1.9 0a0.95 0.95 0 1 0 -1.9 0zM284.39 105.17a0.95 0.95 0 1 0 1.9 0a0.95 0.95 0 1 0 -1.9 0zM285.87 104.82a0.95 0.95 0 1 0 1.9 0a0.95 0.95 0 1 0 -1.9 0zM287.83 104.85a0.95 0.95 0 1 0 1.9 0a0.95 0.95 0 1 0 -1.9 0zM280.18 106.53a0.95 0.95 0 1 0 1.9 0a0.95 0.95 0 1 0 -1.9 0zM281.94 106.79a0.95 0.95 0 1 0 1.9 0a0.95 0.95 0 1 0 -1.9 0zM283.84 106.79a0.95 0.95 0 1 0 1.9 0a0.95 0.95 0 1 0 -1.9 0zM285.15 106.25a0.95 0.95 0 1 0 1.9 0a0.95 0.95 0 1 0 -1.9 0zM286.69 106.5a0.95 0.95 0 1 0 1.9 0a0.95 0.95 0 1 0 -1.9 0zM279.57 107.84a0.95 0.95 0 1 0 1.9 0a0.95 0.95 0 1 0 -1.9 0zM281.18 108.07a0.95 0.95 0 1 0 1.9 0a0.95 0.95 0 1 0 -1.9 0zM282.93 108.15a0.95 0.95 0 1 0 1.9 0a0.95 0.95 0 1 0 -1.9 0zM284.63 108.1a0.95 0.95 0 1 0 1.9 0a0.95 0.95 0 1 0 -1.9 0zM285.89 108.2a0.95 0.95 0 1 0 1.9 0a0.95 0.95 0 1 0 -1.9 0zM287.6 108.04a0.95 0.95 0 1 0 1.9 0a0.95 0.95 0 1 0 -1.9 0zM280.53 109.32a0.95 0.95 0 1 0 1.9 0a0.95 0.95 0 1 0 -1.9 0zM281.9 109.35a0.95 0.95 0 1 0 1.9 0a0.95 0.95 0 1 0 -1.9 0zM283.48 109.73a0.95 0.95 0 1 0 1.9 0a0.95 0.95 0 1 0 -1.9 0zM285.31 109.4a0.95 0.95 0 1 0 1.9 0a0.95 0.95 0 1 0 -1.9 0zM286.84 109.8a0.95 0.95 0 1 0 1.9 0a0.95 0.95 0 1 0 -1.9 0zM280.28 111.19a0.95 0.95 0 1 0 1.9 0a0.95 0.95 0 1 0 -1.9 0zM282.11 111.29a0.95 0.95 0 1 0 1.9 0a0.95 0.95 0 1 0 -1.9 0zM283.45 110.98a0.95 0.95 0 1 0 1.9 0a0.95 0.95 0 1 0 -1.9 0zM285.43 111.2a0.95 0.95 0 1 0 1.9 0a0.95 0.95 0 1 0 -1.9 0zM287.1 110.72a0.95 0.95 0 1 0 1.9 0a0.95 0.95 0 1 0 -1.9 0zM281.03 112.31a0.95 0.95 0 1 0 1.9 0a0.95 0.95 0 1 0 -1.9 0zM283.08 112.55a0.95 0.95 0 1 0 1.9 0a0.95 0.95 0 1 0 -1.9 0zM284.68 112.42a0.95 0.95 0 1 0 1.9 0a0.95 0.95 0 1 0 -1.9 0zM286.26 112.47a0.95 0.95 0 1 0 1.9 0a0.95 0.95 0 1 0 -1.9 0zM281.36 114.27a0.95 0.95 0 1 0 1.9 0a0.95 0.95 0 1 0 -1.9 0zM282.64 114.06a0.95 0.95 0 1 0 1.9 0a0.95 0.95 0 1 0 -1.9 0zM284.52 113.83a0.95 0.95 0 1 0 1.9 0a0.95 0.95 0 1 0 -1.9 0zM286.01 113.78a0.95 0.95 0 1 0 1.9 0a0.95 0.95 0 1 0 -1.9 0zM281.1 115.56a0.95 0.95 0 1 0 1.9 0a0.95 0.95 0 1 0 -1.9 0zM282.92 115.32a0.95 0.95 0 1 0 1.9 0a0.95 0.95 0 1 0 -1.9 0zM284.22 115.4a0.95 0.95 0 1 0 1.9 0a0.95 0.95 0 1 0 -1.9 0zM286.17 115.31a0.95 0.95 0 1 0 1.9 0a0.95 0.95 0 1 0 -1.9 0zM281.88 117.18a0.95 0.95 0 1 0 1.9 0a0.95 0.95 0 1 0 -1.9 0zM283.67 116.74a0.95 0.95 0 1 0 1.9 0a0.95 0.95 0 1 0 -1.9 0zM285.07 116.94a0.95 0.95 0 1 0 1.9 0a0.95 0.95 0 1 0 -1.9 0zM283.05 45a0.95 0.95 0 1 0 1.9 0a0.95 0.95 0 1 0 -1.9 0zM284.55 47.5a0.95 0.95 0 1 0 1.9 0a0.95 0.95 0 1 0 -1.9 0zM282.55 49a0.95 0.95 0 1 0 1.9 0a0.95 0.95 0 1 0 -1.9 0zM285.55 49.5a0.95 0.95 0 1 0 1.9 0a0.95 0.95 0 1 0 -1.9 0zM282.05 128a0.95 0.95 0 1 0 1.9 0a0.95 0.95 0 1 0 -1.9 0zM285.05 127.5a0.95 0.95 0 1 0 1.9 0a0.95 0.95 0 1 0 -1.9 0zM283.55 121a0.95 0.95 0 1 0 1.9 0a0.95 0.95 0 1 0 -1.9 0zM281.55 122a0.95 0.95 0 1 0 1.9 0a0.95 0.95 0 1 0 -1.9 0zM286.05 120a0.95 0.95 0 1 0 1.9 0a0.95 0.95 0 1 0 -1.9 0z" fill="#58595c"/>
<line x1="263" y1="105.7" x2="273.5" y2="105.7" stroke="#14080b" stroke-width="1.2"/>
<line x1="279.4" y1="84.2" x2="290" y2="84.2" stroke="#111" stroke-width="1.35"/>
<path d="M310.65 60a0.85 0.85 0 1 0 1.7 0a0.85 0.85 0 1 0 -1.7 0zM310.65 63.8a0.85 0.85 0 1 0 1.7 0a0.85 0.85 0 1 0 -1.7 0zM310.65 76.5a0.85 0.85 0 1 0 1.7 0a0.85 0.85 0 1 0 -1.7 0zM306.75 80a0.85 0.85 0 1 0 1.7 0a0.85 0.85 0 1 0 -1.7 0zM308.75 81.8a0.85 0.85 0 1 0 1.7 0a0.85 0.85 0 1 0 -1.7 0zM311.35 82.3a0.85 0.85 0 1 0 1.7 0a0.85 0.85 0 1 0 -1.7 0zM314.45 81.5a0.85 0.85 0 1 0 1.7 0a0.85 0.85 0 1 0 -1.7 0zM312.35 90a0.85 0.85 0 1 0 1.7 0a0.85 0.85 0 1 0 -1.7 0zM306.45 102.3a0.85 0.85 0 1 0 1.7 0a0.85 0.85 0 1 0 -1.7 0zM313.35 101.5a0.85 0.85 0 1 0 1.7 0a0.85 0.85 0 1 0 -1.7 0zM307.95 103.8a0.85 0.85 0 1 0 1.7 0a0.85 0.85 0 1 0 -1.7 0zM311.35 103a0.85 0.85 0 1 0 1.7 0a0.85 0.85 0 1 0 -1.7 0zM310.65 107a0.85 0.85 0 1 0 1.7 0a0.85 0.85 0 1 0 -1.7 0zM307.15 111a0.85 0.85 0 1 0 1.7 0a0.85 0.85 0 1 0 -1.7 0zM313.35 111a0.85 0.85 0 1 0 1.7 0a0.85 0.85 0 1 0 -1.7 0zM310.65 113a0.85 0.85 0 1 0 1.7 0a0.85 0.85 0 1 0 -1.7 0zM308.65 108.5a0.85 0.85 0 1 0 1.7 0a0.85 0.85 0 1 0 -1.7 0zM312.65 108a0.85 0.85 0 1 0 1.7 0a0.85 0.85 0 1 0 -1.7 0zM310.65 119.7a0.85 0.85 0 1 0 1.7 0a0.85 0.85 0 1 0 -1.7 0zM309.15 115.5a0.85 0.85 0 1 0 1.7 0a0.85 0.85 0 1 0 -1.7 0zM312.65 116.5a0.85 0.85 0 1 0 1.7 0a0.85 0.85 0 1 0 -1.7 0z" fill="#a90c33"/>
<rect x="323.3" y="65" width="8.4" height="38.5" rx="2.5" fill="#66676a" opacity="0.85"/>
<path d="M324.19 63.25a0.95 0.95 0 1 0 1.9 0a0.95 0.95 0 1 0 -1.9 0zM325.57 63.62a0.95 0.95 0 1 0 1.9 0a0.95 0.95 0 1 0 -1.9 0zM327.31 63.37a0.95 0.95 0 1 0 1.9 0a0.95 0.95 0 1 0 -1.9 0zM328.88 63.77a0.95 0.95 0 1 0 1.9 0a0.95 0.95 0 1 0 -1.9 0zM323.34 64.91a0.95 0.95 0 1 0 1.9 0a0.95 0.95 0 1 0 -1.9 0zM324.89 65.22a0.95 0.95 0 1 0 1.9 0a0.95 0.95 0 1 0 -1.9 0zM326.8 64.92a0.95 0.95 0 1 0 1.9 0a0.95 0.95 0 1 0 -1.9 0zM328.02 65.14a0.95 0.95 0 1 0 1.9 0a0.95 0.95 0 1 0 -1.9 0zM329.64 64.7a0.95 0.95 0 1 0 1.9 0a0.95 0.95 0 1 0 -1.9 0zM322.46 66.69a0.95 0.95 0 1 0 1.9 0a0.95 0.95 0 1 0 -1.9 0zM324.07 66.73a0.95 0.95 0 1 0 1.9 0a0.95 0.95 0 1 0 -1.9 0zM325.72 66.3a0.95 0.95 0 1 0 1.9 0a0.95 0.95 0 1 0 -1.9 0zM327.12 66.53a0.95 0.95 0 1 0 1.9 0a0.95 0.95 0 1 0 -1.9 0zM329.05 66.75a0.95 0.95 0 1 0 1.9 0a0.95 0.95 0 1 0 -1.9 0zM330.39 66.57a0.95 0.95 0 1 0 1.9 0a0.95 0.95 0 1 0 -1.9 0zM322.5 67.79a0.95 0.95 0 1 0 1.9 0a0.95 0.95 0 1 0 -1.9 0zM324.01 68.01a0.95 0.95 0 1 0 1.9 0a0.95 0.95 0 1 0 -1.9 0zM325.95 67.77a0.95 0.95 0 1 0 1.9 0a0.95 0.95 0 1 0 -1.9 0zM327.36 68.18a0.95 0.95 0 1 0 1.9 0a0.95 0.95 0 1 0 -1.9 0zM329.21 67.82a0.95 0.95 0 1 0 1.9 0a0.95 0.95 0 1 0 -1.9 0zM330.41 68.27a0.95 0.95 0 1 0 1.9 0a0.95 0.95 0 1 0 -1.9 0zM321.68 69.23a0.95 0.95 0 1 0 1.9 0a0.95 0.95 0 1 0 -1.9 0zM323.52 69.43a0.95 0.95 0 1 0 1.9 0a0.95 0.95 0 1 0 -1.9 0zM325.13 69.57a0.95 0.95 0 1 0 1.9 0a0.95 0.95 0 1 0 -1.9 0zM326.71 69.3a0.95 0.95 0 1 0 1.9 0a0.95 0.95 0 1 0 -1.9 0zM328.31 69.33a0.95 0.95 0 1 0 1.9 0a0.95 0.95 0 1 0 -1.9 0zM329.74 69.71a0.95 0.95 0 1 0 1.9 0a0.95 0.95 0 1 0 -1.9 0zM331.57 69.31a0.95 0.95 0 1 0 1.9 0a0.95 0.95 0 1 0 -1.9 0zM322.45 71.01a0.95 0.95 0 1 0 1.9 0a0.95 0.95 0 1 0 -1.9 0zM324.06 70.77a0.95 0.95 0 1 0 1.9 0a0.95 0.95 0 1 0 -1.9 0zM325.61 71.13a0.95 0.95 0 1 0 1.9 0a0.95 0.95 0 1 0 -1.9 0zM327.56 70.72a0.95 0.95 0 1 0 1.9 0a0.95 0.95 0 1 0 -1.9 0zM329.01 71.15a0.95 0.95 0 1 0 1.9 0a0.95 0.95 0 1 0 -1.9 0zM330.37 71.2a0.95 0.95 0 1 0 1.9 0a0.95 0.95 0 1 0 -1.9 0zM323.36 72.53a0.95 0.95 0 1 0 1.9 0a0.95 0.95 0 1 0 -1.9 0zM324.99 72.38a0.95 0.95 0 1 0 1.9 0a0.95 0.95 0 1 0 -1.9 0zM326.51 72.55a0.95 0.95 0 1 0 1.9 0a0.95 0.95 0 1 0 -1.9 0zM328.13 72.6a0.95 0.95 0 1 0 1.9 0a0.95 0.95 0 1 0 -1.9 0zM329.76 72.46a0.95 0.95 0 1 0 1.9 0a0.95 0.95 0 1 0 -1.9 0zM323.37 73.99a0.95 0.95 0 1 0 1.9 0a0.95 0.95 0 1 0 -1.9 0zM324.8 74.16a0.95 0.95 0 1 0 1.9 0a0.95 0.95 0 1 0 -1.9 0zM326.69 73.97a0.95 0.95 0 1 0 1.9 0a0.95 0.95 0 1 0 -1.9 0zM328.01 73.98a0.95 0.95 0 1 0 1.9 0a0.95 0.95 0 1 0 -1.9 0zM329.59 73.78a0.95 0.95 0 1 0 1.9 0a0.95 0.95 0 1 0 -1.9 0zM322.3 75.47a0.95 0.95 0 1 0 1.9 0a0.95 0.95 0 1 0 -1.9 0zM324.13 75.22a0.95 0.95 0 1 0 1.9 0a0.95 0.95 0 1 0 -1.9 0zM325.81 75.25a0.95 0.95 0 1 0 1.9 0a0.95 0.95 0 1 0 -1.9 0zM327.48 75.67a0.95 0.95 0 1 0 1.9 0a0.95 0.95 0 1 0 -1.9 0zM328.99 75.23a0.95 0.95 0 1 0 1.9 0a0.95 0.95 0 1 0 -1.9 0zM330.6 75.43a0.95 0.95 0 1 0 1.9 0a0.95 0.95 0 1 0 -1.9 0zM321.51 77.21a0.95 0.95 0 1 0 1.9 0a0.95 0.95 0 1 0 -1.9 0zM323.56 77.14a0.95 0.95 0 1 0 1.9 0a0.95 0.95 0 1 0 -1.9 0zM325.09 76.82a0.95 0.95 0 1 0 1.9 0a0.95 0.95 0 1 0 -1.9 0zM326.79 77a0.95 0.95 0 1 0 1.9 0a0.95 0.95 0 1 0 -1.9 0zM328.4 77.25a0.95 0.95 0 1 0 1.9 0a0.95 0.95 0 1 0 -1.9 0zM329.62 77.17a0.95 0.95 0 1 0 1.9 0a0.95 0.95 0 1 0 -1.9 0zM331.63 76.74a0.95 0.95 0 1 0 1.9 0a0.95 0.95 0 1 0 -1.9 0zM322.63 78.3a0.95 0.95 0 1 0 1.9 0a0.95 0.95 0 1 0 -1.9 0zM324.32 78.36a0.95 0.95 0 1 0 1.9 0a0.95 0.95 0 1 0 -1.9 0zM325.9 78.29a0.95 0.95 0 1 0 1.9 0a0.95 0.95 0 1 0 -1.9 0zM327.36 78.75a0.95 0.95 0 1 0 1.9 0a0.95 0.95 0 1 0 -1.9 0zM328.83 78.36a0.95 0.95 0 1 0 1.9 0a0.95 0.95 0 1 0 -1.9 0zM330.6 78.39a0.95 0.95 0 1 0 1.9 0a0.95 0.95 0 1 0 -1.9 0zM323.15 79.8a0.95 0.95 0 1 0 1.9 0a0.95 0.95 0 1 0 -1.9 0zM325.15 80.11a0.95 0.95 0 1 0 1.9 0a0.95 0.95 0 1 0 -1.9 0zM326.75 79.8a0.95 0.95 0 1 0 1.9 0a0.95 0.95 0 1 0 -1.9 0zM328.31 79.77a0.95 0.95 0 1 0 1.9 0a0.95 0.95 0 1 0 -1.9 0zM329.81 80.08a0.95 0.95 0 1 0 1.9 0a0.95 0.95 0 1 0 -1.9 0zM322.69 81.53a0.95 0.95 0 1 0 1.9 0a0.95 0.95 0 1 0 -1.9 0zM324.16 81.73a0.95 0.95 0 1 0 1.9 0a0.95 0.95 0 1 0 -1.9 0zM325.54 81.8a0.95 0.95 0 1 0 1.9 0a0.95 0.95 0 1 0 -1.9 0zM327.42 81.44a0.95 0.95 0 1 0 1.9 0a0.95 0.95 0 1 0 -1.9 0zM329.13 81.36a0.95 0.95 0 1 0 1.9 0a0.95 0.95 0 1 0 -1.9 0zM330.85 81.55a0.95 0.95 0 1 0 1.9 0a0.95 0.95 0 1 0 -1.9 0zM322.63 82.97a0.95 0.95 0 1 0 1.9 0a0.95 0.95 0 1 0 -1.9 0zM323.96 83.15a0.95 0.95 0 1 0 1.9 0a0.95 0.95 0 1 0 -1.9 0zM325.51 83.19a0.95 0.95 0 1 0 1.9 0a0.95 0.95 0 1 0 -1.9 0zM327.24 83.08a0.95 0.95 0 1 0 1.9 0a0.95 0.95 0 1 0 -1.9 0zM329.22 83.05a0.95 0.95 0 1 0 1.9 0a0.95 0.95 0 1 0 -1.9 0zM330.68 82.89a0.95 0.95 0 1 0 1.9 0a0.95 0.95 0 1 0 -1.9 0zM323.08 84.29a0.95 0.95 0 1 0 1.9 0a0.95 0.95 0 1 0 -1.9 0zM324.99 84.46a0.95 0.95 0 1 0 1.9 0a0.95 0.95 0 1 0 -1.9 0zM326.56 84.74a0.95 0.95 0 1 0 1.9 0a0.95 0.95 0 1 0 -1.9 0zM327.99 84.34a0.95 0.95 0 1 0 1.9 0a0.95 0.95 0 1 0 -1.9 0zM329.87 84.21a0.95 0.95 0 1 0 1.9 0a0.95 0.95 0 1 0 -1.9 0zM323.24 85.76a0.95 0.95 0 1 0 1.9 0a0.95 0.95 0 1 0 -1.9 0zM324.86 85.83a0.95 0.95 0 1 0 1.9 0a0.95 0.95 0 1 0 -1.9 0zM326.59 86.05a0.95 0.95 0 1 0 1.9 0a0.95 0.95 0 1 0 -1.9 0zM328.02 86.07a0.95 0.95 0 1 0 1.9 0a0.95 0.95 0 1 0 -1.9 0zM329.78 85.78a0.95 0.95 0 1 0 1.9 0a0.95 0.95 0 1 0 -1.9 0zM321.56 87.29a0.95 0.95 0 1 0 1.9 0a0.95 0.95 0 1 0 -1.9 0zM323.11 87.58a0.95 0.95 0 1 0 1.9 0a0.95 0.95 0 1 0 -1.9 0zM325.12 87.67a0.95 0.95 0 1 0 1.9 0a0.95 0.95 0 1 0 -1.9 0zM326.5 87.36a0.95 0.95 0 1 0 1.9 0a0.95 0.95 0 1 0 -1.9 0zM327.93 87.59a0.95 0.95 0 1 0 1.9 0a0.95 0.95 0 1 0 -1.9 0zM329.82 87.41a0.95 0.95 0 1 0 1.9 0a0.95 0.95 0 1 0 -1.9 0zM331.48 87.47a0.95 0.95 0 1 0 1.9 0a0.95 0.95 0 1 0 -1.9 0zM321.81 88.85a0.95 0.95 0 1 0 1.9 0a0.95 0.95 0 1 0 -1.9 0zM323.51 88.73a0.95 0.95 0 1 0 1.9 0a0.95 0.95 0 1 0 -1.9 0zM324.95 88.94a0.95 0.95 0 1 0 1.9 0a0.95 0.95 0 1 0 -1.9 0zM326.42 88.74a0.95 0.95 0 1 0 1.9 0a0.95 0.95 0 1 0 -1.9 0zM328.31 88.71a0.95 0.95 0 1 0 1.9 0a0.95 0.95 0 1 0 -1.9 0zM329.82 89.26a0.95 0.95 0 1 0 1.9 0a0.95 0.95 0 1 0 -1.9 0zM331.23 88.82a0.95 0.95 0 1 0 1.9 0a0.95 0.95 0 1 0 -1.9 0zM322.5 90.58a0.95 0.95 0 1 0 1.9 0a0.95 0.95 0 1 0 -1.9 0zM324.28 90.3a0.95 0.95 0 1 0 1.9 0a0.95 0.95 0 1 0 -1.9 0zM325.64 90.38a0.95 0.95 0 1 0 1.9 0a0.95 0.95 0 1 0 -1.9 0zM327.13 90.73a0.95 0.95 0 1 0 1.9 0a0.95 0.95 0 1 0 -1.9 0zM329.12 90.63a0.95 0.95 0 1 0 1.9 0a0.95 0.95 0 1 0 -1.9 0zM330.35 90.71a0.95 0.95 0 1 0 1.9 0a0.95 0.95 0 1 0 -1.9 0zM322.48 92.15a0.95 0.95 0 1 0 1.9 0a0.95 0.95 0 1 0 -1.9 0zM324.1 91.84a0.95 0.95 0 1 0 1.9 0a0.95 0.95 0 1 0 -1.9 0zM325.54 91.84a0.95 0.95 0 1 0 1.9 0a0.95 0.95 0 1 0 -1.9 0zM327.13 91.9a0.95 0.95 0 1 0 1.9 0a0.95 0.95 0 1 0 -1.9 0zM329.1 92.12a0.95 0.95 0 1 0 1.9 0a0.95 0.95 0 1 0 -1.9 0zM330.77 92.13a0.95 0.95 0 1 0 1.9 0a0.95 0.95 0 1 0 -1.9 0zM322.53 93.46a0.95 0.95 0 1 0 1.9 0a0.95 0.95 0 1 0 -1.9 0zM324.26 93.51a0.95 0.95 0 1 0 1.9 0a0.95 0.95 0 1 0 -1.9 0zM325.62 93.59a0.95 0.95 0 1 0 1.9 0a0.95 0.95 0 1 0 -1.9 0zM327.59 93.33a0.95 0.95 0 1 0 1.9 0a0.95 0.95 0 1 0 -1.9 0zM329.17 93.21a0.95 0.95 0 1 0 1.9 0a0.95 0.95 0 1 0 -1.9 0zM330.48 93.34a0.95 0.95 0 1 0 1.9 0a0.95 0.95 0 1 0 -1.9 0zM322.72 95.15a0.95 0.95 0 1 0 1.9 0a0.95 0.95 0 1 0 -1.9 0zM324.03 95.23a0.95 0.95 0 1 0 1.9 0a0.95 0.95 0 1 0 -1.9 0zM325.65 94.84a0.95 0.95 0 1 0 1.9 0a0.95 0.95 0 1 0 -1.9 0zM327.56 95.08a0.95 0.95 0 1 0 1.9 0a0.95 0.95 0 1 0 -1.9 0zM329.08 95.1a0.95 0.95 0 1 0 1.9 0a0.95 0.95 0 1 0 -1.9 0zM330.84 94.98a0.95 0.95 0 1 0 1.9 0a0.95 0.95 0 1 0 -1.9 0zM321.79 96.71a0.95 0.95 0 1 0 1.9 0a0.95 0.95 0 1 0 -1.9 0zM323.28 96.63a0.95 0.95 0 1 0 1.9 0a0.95 0.95 0 1 0 -1.9 0zM324.97 96.38a0.95 0.95 0 1 0 1.9 0a0.95 0.95 0 1 0 -1.9 0zM326.41 96.57a0.95 0.95 0 1 0 1.9 0a0.95 0.95 0 1 0 -1.9 0zM327.96 96.75a0.95 0.95 0 1 0 1.9 0a0.95 0.95 0 1 0 -1.9 0zM329.61 96.22a0.95 0.95 0 1 0 1.9 0a0.95 0.95 0 1 0 -1.9 0zM331.21 96.76a0.95 0.95 0 1 0 1.9 0a0.95 0.95 0 1 0 -1.9 0zM322.32 97.72a0.95 0.95 0 1 0 1.9 0a0.95 0.95 0 1 0 -1.9 0zM323.89 98.12a0.95 0.95 0 1 0 1.9 0a0.95 0.95 0 1 0 -1.9 0zM325.81 98.12a0.95 0.95 0 1 0 1.9 0a0.95 0.95 0 1 0 -1.9 0zM327.48 97.74a0.95 0.95 0 1 0 1.9 0a0.95 0.95 0 1 0 -1.9 0zM329.03 97.92a0.95 0.95 0 1 0 1.9 0a0.95 0.95 0 1 0 -1.9 0zM330.76 98.19a0.95 0.95 0 1 0 1.9 0a0.95 0.95 0 1 0 -1.9 0zM321.47 99.72a0.95 0.95 0 1 0 1.9 0a0.95 0.95 0 1 0 -1.9 0zM323.52 99.77a0.95 0.95 0 1 0 1.9 0a0.95 0.95 0 1 0 -1.9 0zM324.73 99.32a0.95 0.95 0 1 0 1.9 0a0.95 0.95 0 1 0 -1.9 0zM326.36 99.22a0.95 0.95 0 1 0 1.9 0a0.95 0.95 0 1 0 -1.9 0zM328.34 99.69a0.95 0.95 0 1 0 1.9 0a0.95 0.95 0 1 0 -1.9 0zM329.86 99.7a0.95 0.95 0 1 0 1.9 0a0.95 0.95 0 1 0 -1.9 0zM331.48 99.37a0.95 0.95 0 1 0 1.9 0a0.95 0.95 0 1 0 -1.9 0zM323.92 101.15a0.95 0.95 0 1 0 1.9 0a0.95 0.95 0 1 0 -1.9 0zM325.59 100.89a0.95 0.95 0 1 0 1.9 0a0.95 0.95 0 1 0 -1.9 0zM327.32 100.71a0.95 0.95 0 1 0 1.9 0a0.95 0.95 0 1 0 -1.9 0zM328.86 100.87a0.95 0.95 0 1 0 1.9 0a0.95 0.95 0 1 0 -1.9 0zM323.24 102.39a0.95 0.95 0 1 0 1.9 0a0.95 0.95 0 1 0 -1.9 0zM325.16 102.5a0.95 0.95 0 1 0 1.9 0a0.95 0.95 0 1 0 -1.9 0zM326.73 102.57a0.95 0.95 0 1 0 1.9 0a0.95 0.95 0 1 0 -1.9 0zM327.94 102.45a0.95 0.95 0 1 0 1.9 0a0.95 0.95 0 1 0 -1.9 0zM329.76 102.66a0.95 0.95 0 1 0 1.9 0a0.95 0.95 0 1 0 -1.9 0zM325.03 104.02a0.95 0.95 0 1 0 1.9 0a0.95 0.95 0 1 0 -1.9 0zM326.41 104.22a0.95 0.95 0 1 0 1.9 0a0.95 0.95 0 1 0 -1.9 0zM327.97 104.19a0.95 0.95 0 1 0 1.9 0a0.95 0.95 0 1 0 -1.9 0zM322.55 59a0.95 0.95 0 1 0 1.9 0a0.95 0.95 0 1 0 -1.9 0zM324.55 59.5a0.95 0.95 0 1 0 1.9 0a0.95 0.95 0 1 0 -1.9 0zM326.55 59.5a0.95 0.95 0 1 0 1.9 0a0.95 0.95 0 1 0 -1.9 0zM328.55 59a0.95 0.95 0 1 0 1.9 0a0.95 0.95 0 1 0 -1.9 0zM330.55 58.5a0.95 0.95 0 1 0 1.9 0a0.95 0.95 0 1 0 -1.9 0zM326.05 109a0.95 0.95 0 1 0 1.9 0a0.95 0.95 0 1 0 -1.9 0zM323.05 112a0.95 0.95 0 1 0 1.9 0a0.95 0.95 0 1 0 -1.9 0zM325.55 114a0.95 0.95 0 1 0 1.9 0a0.95 0.95 0 1 0 -1.9 0zM328.05 113a0.95 0.95 0 1 0 1.9 0a0.95 0.95 0 1 0 -1.9 0zM324.05 117a0.95 0.95 0 1 0 1.9 0a0.95 0.95 0 1 0 -1.9 0zM327.05 117.5a0.95 0.95 0 1 0 1.9 0a0.95 0.95 0 1 0 -1.9 0zM330.05 116a0.95 0.95 0 1 0 1.9 0a0.95 0.95 0 1 0 -1.9 0zM326.55 127.5a0.95 0.95 0 1 0 1.9 0a0.95 0.95 0 1 0 -1.9 0z" fill="#58595c"/>
<line x1="306" y1="94.4" x2="316.6" y2="94.4" stroke="#14080b" stroke-width="1.2"/>
<line x1="322" y1="83.3" x2="333" y2="83.3" stroke="#111" stroke-width="1.35"/>
<path d="M352.95 55a0.85 0.85 0 1 0 1.7 0a0.85 0.85 0 1 0 -1.7 0zM351.65 58.5a0.85 0.85 0 1 0 1.7 0a0.85 0.85 0 1 0 -1.7 0zM354.65 58a0.85 0.85 0 1 0 1.7 0a0.85 0.85 0 1 0 -1.7 0zM350.65 64a0.85 0.85 0 1 0 1.7 0a0.85 0.85 0 1 0 -1.7 0zM353.15 66a0.85 0.85 0 1 0 1.7 0a0.85 0.85 0 1 0 -1.7 0zM355.65 64.5a0.85 0.85 0 1 0 1.7 0a0.85 0.85 0 1 0 -1.7 0zM349.65 69.5a0.85 0.85 0 1 0 1.7 0a0.85 0.85 0 1 0 -1.7 0zM352.15 69.5a0.85 0.85 0 1 0 1.7 0a0.85 0.85 0 1 0 -1.7 0zM354.65 69.5a0.85 0.85 0 1 0 1.7 0a0.85 0.85 0 1 0 -1.7 0zM356.65 69.5a0.85 0.85 0 1 0 1.7 0a0.85 0.85 0 1 0 -1.7 0zM351.15 72a0.85 0.85 0 1 0 1.7 0a0.85 0.85 0 1 0 -1.7 0zM354.15 72a0.85 0.85 0 1 0 1.7 0a0.85 0.85 0 1 0 -1.7 0zM350.15 76a0.85 0.85 0 1 0 1.7 0a0.85 0.85 0 1 0 -1.7 0zM353.15 76.5a0.85 0.85 0 1 0 1.7 0a0.85 0.85 0 1 0 -1.7 0zM355.65 76a0.85 0.85 0 1 0 1.7 0a0.85 0.85 0 1 0 -1.7 0zM352.15 80a0.85 0.85 0 1 0 1.7 0a0.85 0.85 0 1 0 -1.7 0zM354.65 80.5a0.85 0.85 0 1 0 1.7 0a0.85 0.85 0 1 0 -1.7 0zM353.15 84a0.85 0.85 0 1 0 1.7 0a0.85 0.85 0 1 0 -1.7 0zM354.15 89a0.85 0.85 0 1 0 1.7 0a0.85 0.85 0 1 0 -1.7 0zM351.65 92.5a0.85 0.85 0 1 0 1.7 0a0.85 0.85 0 1 0 -1.7 0z" fill="#a90c33"/>
<rect x="365.8" y="56" width="8.4" height="30" rx="2.5" fill="#66676a" opacity="0.85"/>
<path d="M367.18 54.32a0.95 0.95 0 1 0 1.9 0a0.95 0.95 0 1 0 -1.9 0zM369.18 54.79a0.95 0.95 0 1 0 1.9 0a0.95 0.95 0 1 0 -1.9 0zM370.42 54.49a0.95 0.95 0 1 0 1.9 0a0.95 0.95 0 1 0 -1.9 0zM365.96 55.81a0.95 0.95 0 1 0 1.9 0a0.95 0.95 0 1 0 -1.9 0zM367.43 55.91a0.95 0.95 0 1 0 1.9 0a0.95 0.95 0 1 0 -1.9 0zM369.22 55.86a0.95 0.95 0 1 0 1.9 0a0.95 0.95 0 1 0 -1.9 0zM370.89 55.87a0.95 0.95 0 1 0 1.9 0a0.95 0.95 0 1 0 -1.9 0zM372.15 56.12a0.95 0.95 0 1 0 1.9 0a0.95 0.95 0 1 0 -1.9 0zM364.8 57.58a0.95 0.95 0 1 0 1.9 0a0.95 0.95 0 1 0 -1.9 0zM366.41 57.67a0.95 0.95 0 1 0 1.9 0a0.95 0.95 0 1 0 -1.9 0zM368.34 57.67a0.95 0.95 0 1 0 1.9 0a0.95 0.95 0 1 0 -1.9 0zM369.92 57.41a0.95 0.95 0 1 0 1.9 0a0.95 0.95 0 1 0 -1.9 0zM371.43 57.44a0.95 0.95 0 1 0 1.9 0a0.95 0.95 0 1 0 -1.9 0zM373.3 57.25a0.95 0.95 0 1 0 1.9 0a0.95 0.95 0 1 0 -1.9 0zM363.95 58.82a0.95 0.95 0 1 0 1.9 0a0.95 0.95 0 1 0 -1.9 0zM365.69 59.24a0.95 0.95 0 1 0 1.9 0a0.95 0.95 0 1 0 -1.9 0zM367.43 58.93a0.95 0.95 0 1 0 1.9 0a0.95 0.95 0 1 0 -1.9 0zM369.24 58.84a0.95 0.95 0 1 0 1.9 0a0.95 0.95 0 1 0 -1.9 0zM370.65 59.02a0.95 0.95 0 1 0 1.9 0a0.95 0.95 0 1 0 -1.9 0zM372.42 59.15a0.95 0.95 0 1 0 1.9 0a0.95 0.95 0 1 0 -1.9 0zM373.98 58.91a0.95 0.95 0 1 0 1.9 0a0.95 0.95 0 1 0 -1.9 0zM364.83 60.71a0.95 0.95 0 1 0 1.9 0a0.95 0.95 0 1 0 -1.9 0zM366.7 60.65a0.95 0.95 0 1 0 1.9 0a0.95 0.95 0 1 0 -1.9 0zM368.07 60.46a0.95 0.95 0 1 0 1.9 0a0.95 0.95 0 1 0 -1.9 0zM370 60.55a0.95 0.95 0 1 0 1.9 0a0.95 0.95 0 1 0 -1.9 0zM371.29 60.48a0.95 0.95 0 1 0 1.9 0a0.95 0.95 0 1 0 -1.9 0zM373.29 60.34a0.95 0.95 0 1 0 1.9 0a0.95 0.95 0 1 0 -1.9 0zM364.9 62.12a0.95 0.95 0 1 0 1.9 0a0.95 0.95 0 1 0 -1.9 0zM366.79 61.79a0.95 0.95 0 1 0 1.9 0a0.95 0.95 0 1 0 -1.9 0zM368.07 61.85a0.95 0.95 0 1 0 1.9 0a0.95 0.95 0 1 0 -1.9 0zM369.77 62.01a0.95 0.95 0 1 0 1.9 0a0.95 0.95 0 1 0 -1.9 0zM371.31 61.9a0.95 0.95 0 1 0 1.9 0a0.95 0.95 0 1 0 -1.9 0zM372.94 62.29a0.95 0.95 0 1 0 1.9 0a0.95 0.95 0 1 0 -1.9 0zM364.8 63.78a0.95 0.95 0 1 0 1.9 0a0.95 0.95 0 1 0 -1.9 0zM366.42 63.43a0.95 0.95 0 1 0 1.9 0a0.95 0.95 0 1 0 -1.9 0zM368.48 63.68a0.95 0.95 0 1 0 1.9 0a0.95 0.95 0 1 0 -1.9 0zM369.98 63.46a0.95 0.95 0 1 0 1.9 0a0.95 0.95 0 1 0 -1.9 0zM371.33 63.58a0.95 0.95 0 1 0 1.9 0a0.95 0.95 0 1 0 -1.9 0zM372.9 63.32a0.95 0.95 0 1 0 1.9 0a0.95 0.95 0 1 0 -1.9 0zM364.77 64.94a0.95 0.95 0 1 0 1.9 0a0.95 0.95 0 1 0 -1.9 0zM366.77 65.12a0.95 0.95 0 1 0 1.9 0a0.95 0.95 0 1 0 -1.9 0zM368.24 65.08a0.95 0.95 0 1 0 1.9 0a0.95 0.95 0 1 0 -1.9 0zM369.84 64.79a0.95 0.95 0 1 0 1.9 0a0.95 0.95 0 1 0 -1.9 0zM371.53 64.94a0.95 0.95 0 1 0 1.9 0a0.95 0.95 0 1 0 -1.9 0zM373.22 65.24a0.95 0.95 0 1 0 1.9 0a0.95 0.95 0 1 0 -1.9 0zM365.04 66.65a0.95 0.95 0 1 0 1.9 0a0.95 0.95 0 1 0 -1.9 0zM366.58 66.34a0.95 0.95 0 1 0 1.9 0a0.95 0.95 0 1 0 -1.9 0zM368.35 66.73a0.95 0.95 0 1 0 1.9 0a0.95 0.95 0 1 0 -1.9 0zM370 66.62a0.95 0.95 0 1 0 1.9 0a0.95 0.95 0 1 0 -1.9 0zM371.66 66.61a0.95 0.95 0 1 0 1.9 0a0.95 0.95 0 1 0 -1.9 0zM373.17 66.47a0.95 0.95 0 1 0 1.9 0a0.95 0.95 0 1 0 -1.9 0zM365.06 67.76a0.95 0.95 0 1 0 1.9 0a0.95 0.95 0 1 0 -1.9 0zM366.58 68.17a0.95 0.95 0 1 0 1.9 0a0.95 0.95 0 1 0 -1.9 0zM368.35 68.08a0.95 0.95 0 1 0 1.9 0a0.95 0.95 0 1 0 -1.9 0zM369.74 67.95a0.95 0.95 0 1 0 1.9 0a0.95 0.95 0 1 0 -1.9 0zM371.46 68.07a0.95 0.95 0 1 0 1.9 0a0.95 0.95 0 1 0 -1.9 0zM373.05 68.11a0.95 0.95 0 1 0 1.9 0a0.95 0.95 0 1 0 -1.9 0zM364.03 69.59a0.95 0.95 0 1 0 1.9 0a0.95 0.95 0 1 0 -1.9 0zM365.95 69.43a0.95 0.95 0 1 0 1.9 0a0.95 0.95 0 1 0 -1.9 0zM367.42 69.78a0.95 0.95 0 1 0 1.9 0a0.95 0.95 0 1 0 -1.9 0zM368.82 69.53a0.95 0.95 0 1 0 1.9 0a0.95 0.95 0 1 0 -1.9 0zM370.5 69.67a0.95 0.95 0 1 0 1.9 0a0.95 0.95 0 1 0 -1.9 0zM372.51 69.51a0.95 0.95 0 1 0 1.9 0a0.95 0.95 0 1 0 -1.9 0zM373.71 69.54a0.95 0.95 0 1 0 1.9 0a0.95 0.95 0 1 0 -1.9 0zM365.11 71.01a0.95 0.95 0 1 0 1.9 0a0.95 0.95 0 1 0 -1.9 0zM366.69 71.2a0.95 0.95 0 1 0 1.9 0a0.95 0.95 0 1 0 -1.9 0zM368.25 70.95a0.95 0.95 0 1 0 1.9 0a0.95 0.95 0 1 0 -1.9 0zM370.08 70.83a0.95 0.95 0 1 0 1.9 0a0.95 0.95 0 1 0 -1.9 0zM371.57 70.94a0.95 0.95 0 1 0 1.9 0a0.95 0.95 0 1 0 -1.9 0zM373.23 70.77a0.95 0.95 0 1 0 1.9 0a0.95 0.95 0 1 0 -1.9 0zM364.12 72.23a0.95 0.95 0 1 0 1.9 0a0.95 0.95 0 1 0 -1.9 0zM365.7 72.44a0.95 0.95 0 1 0 1.9 0a0.95 0.95 0 1 0 -1.9 0zM367.19 72.45a0.95 0.95 0 1 0 1.9 0a0.95 0.95 0 1 0 -1.9 0zM369.01 72.62a0.95 0.95 0 1 0 1.9 0a0.95 0.95 0 1 0 -1.9 0zM370.6 72.36a0.95 0.95 0 1 0 1.9 0a0.95 0.95 0 1 0 -1.9 0zM372.15 72.64a0.95 0.95 0 1 0 1.9 0a0.95 0.95 0 1 0 -1.9 0zM374.13 72.52a0.95 0.95 0 1 0 1.9 0a0.95 0.95 0 1 0 -1.9 0zM365.15 73.94a0.95 0.95 0 1 0 1.9 0a0.95 0.95 0 1 0 -1.9 0zM366.48 73.78a0.95 0.95 0 1 0 1.9 0a0.95 0.95 0 1 0 -1.9 0zM368.38 74.19a0.95 0.95 0 1 0 1.9 0a0.95 0.95 0 1 0 -1.9 0zM369.93 73.98a0.95 0.95 0 1 0 1.9 0a0.95 0.95 0 1 0 -1.9 0zM371.51 73.84a0.95 0.95 0 1 0 1.9 0a0.95 0.95 0 1 0 -1.9 0zM373.33 73.91a0.95 0.95 0 1 0 1.9 0a0.95 0.95 0 1 0 -1.9 0zM365.16 75.69a0.95 0.95 0 1 0 1.9 0a0.95 0.95 0 1 0 -1.9 0zM366.6 75.38a0.95 0.95 0 1 0 1.9 0a0.95 0.95 0 1 0 -1.9 0zM368.26 75.28a0.95 0.95 0 1 0 1.9 0a0.95 0.95 0 1 0 -1.9 0zM370.03 75.41a0.95 0.95 0 1 0 1.9 0a0.95 0.95 0 1 0 -1.9 0zM371.66 75.36a0.95 0.95 0 1 0 1.9 0a0.95 0.95 0 1 0 -1.9 0zM373.04 75.35a0.95 0.95 0 1 0 1.9 0a0.95 0.95 0 1 0 -1.9 0zM364.84 76.7a0.95 0.95 0 1 0 1.9 0a0.95 0.95 0 1 0 -1.9 0zM366.73 76.87a0.95 0.95 0 1 0 1.9 0a0.95 0.95 0 1 0 -1.9 0zM368.11 76.88a0.95 0.95 0 1 0 1.9 0a0.95 0.95 0 1 0 -1.9 0zM369.85 76.96a0.95 0.95 0 1 0 1.9 0a0.95 0.95 0 1 0 -1.9 0zM371.55 77.1a0.95 0.95 0 1 0 1.9 0a0.95 0.95 0 1 0 -1.9 0zM373.03 77.26a0.95 0.95 0 1 0 1.9 0a0.95 0.95 0 1 0 -1.9 0zM363.97 78.7a0.95 0.95 0 1 0 1.9 0a0.95 0.95 0 1 0 -1.9 0zM366.01 78.67a0.95 0.95 0 1 0 1.9 0a0.95 0.95 0 1 0 -1.9 0zM367.25 78.7a0.95 0.95 0 1 0 1.9 0a0.95 0.95 0 1 0 -1.9 0zM369.12 78.21a0.95 0.95 0 1 0 1.9 0a0.95 0.95 0 1 0 -1.9 0zM370.43 78.77a0.95 0.95 0 1 0 1.9 0a0.95 0.95 0 1 0 -1.9 0zM372.37 78.35a0.95 0.95 0 1 0 1.9 0a0.95 0.95 0 1 0 -1.9 0zM373.71 78.29a0.95 0.95 0 1 0 1.9 0a0.95 0.95 0 1 0 -1.9 0zM365.14 79.91a0.95 0.95 0 1 0 1.9 0a0.95 0.95 0 1 0 -1.9 0zM366.45 80.24a0.95 0.95 0 1 0 1.9 0a0.95 0.95 0 1 0 -1.9 0zM368.39 79.8a0.95 0.95 0 1 0 1.9 0a0.95 0.95 0 1 0 -1.9 0zM370.06 80.07a0.95 0.95 0 1 0 1.9 0a0.95 0.95 0 1 0 -1.9 0zM371.62 80.1a0.95 0.95 0 1 0 1.9 0a0.95 0.95 0 1 0 -1.9 0zM373.3 80.17a0.95 0.95 0 1 0 1.9 0a0.95 0.95 0 1 0 -1.9 0zM364.04 81.62a0.95 0.95 0 1 0 1.9 0a0.95 0.95 0 1 0 -1.9 0zM365.83 81.65a0.95 0.95 0 1 0 1.9 0a0.95 0.95 0 1 0 -1.9 0zM367.4 81.73a0.95 0.95 0 1 0 1.9 0a0.95 0.95 0 1 0 -1.9 0zM369.08 81.36a0.95 0.95 0 1 0 1.9 0a0.95 0.95 0 1 0 -1.9 0zM370.54 81.28a0.95 0.95 0 1 0 1.9 0a0.95 0.95 0 1 0 -1.9 0zM372.29 81.24a0.95 0.95 0 1 0 1.9 0a0.95 0.95 0 1 0 -1.9 0zM373.89 81.29a0.95 0.95 0 1 0 1.9 0a0.95 0.95 0 1 0 -1.9 0zM365.81 83.02a0.95 0.95 0 1 0 1.9 0a0.95 0.95 0 1 0 -1.9 0zM367.61 82.7a0.95 0.95 0 1 0 1.9 0a0.95 0.95 0 1 0 -1.9 0zM369.22 82.98a0.95 0.95 0 1 0 1.9 0a0.95 0.95 0 1 0 -1.9 0zM370.7 83.1a0.95 0.95 0 1 0 1.9 0a0.95 0.95 0 1 0 -1.9 0zM372.46 82.92a0.95 0.95 0 1 0 1.9 0a0.95 0.95 0 1 0 -1.9 0zM366.85 84.25a0.95 0.95 0 1 0 1.9 0a0.95 0.95 0 1 0 -1.9 0zM368.31 84.58a0.95 0.95 0 1 0 1.9 0a0.95 0.95 0 1 0 -1.9 0zM369.62 84.57a0.95 0.95 0 1 0 1.9 0a0.95 0.95 0 1 0 -1.9 0zM371.57 84.76a0.95 0.95 0 1 0 1.9 0a0.95 0.95 0 1 0 -1.9 0zM367.67 86.01a0.95 0.95 0 1 0 1.9 0a0.95 0.95 0 1 0 -1.9 0zM369.04 86.24a0.95 0.95 0 1 0 1.9 0a0.95 0.95 0 1 0 -1.9 0zM370.44 86.13a0.95 0.95 0 1 0 1.9 0a0.95 0.95 0 1 0 -1.9 0zM367.35 87.72a0.95 0.95 0 1 0 1.9 0a0.95 0.95 0 1 0 -1.9 0zM368.98 87.48a0.95 0.95 0 1 0 1.9 0a0.95 0.95 0 1 0 -1.9 0zM370.68 87.66a0.95 0.95 0 1 0 1.9 0a0.95 0.95 0 1 0 -1.9 0zM365.05 52a0.95 0.95 0 1 0 1.9 0a0.95 0.95 0 1 0 -1.9 0zM367.05 51.5a0.95 0.95 0 1 0 1.9 0a0.95 0.95 0 1 0 -1.9 0zM369.05 52.5a0.95 0.95 0 1 0 1.9 0a0.95 0.95 0 1 0 -1.9 0zM371.05 51.5a0.95 0.95 0 1 0 1.9 0a0.95 0.95 0 1 0 -1.9 0zM373.05 51.5a0.95 0.95 0 1 0 1.9 0a0.95 0.95 0 1 0 -1.9 0zM365.55 96a0.95 0.95 0 1 0 1.9 0a0.95 0.95 0 1 0 -1.9 0zM368.55 99a0.95 0.95 0 1 0 1.9 0a0.95 0.95 0 1 0 -1.9 0zM370.55 99a0.95 0.95 0 1 0 1.9 0a0.95 0.95 0 1 0 -1.9 0zM372.55 99a0.95 0.95 0 1 0 1.9 0a0.95 0.95 0 1 0 -1.9 0zM367.55 107.5a0.95 0.95 0 1 0 1.9 0a0.95 0.95 0 1 0 -1.9 0zM370.55 108.5a0.95 0.95 0 1 0 1.9 0a0.95 0.95 0 1 0 -1.9 0zM369.05 113.8a0.95 0.95 0 1 0 1.9 0a0.95 0.95 0 1 0 -1.9 0z" fill="#58595c"/>
<line x1="348.5" y1="71.6" x2="359" y2="71.6" stroke="#14080b" stroke-width="1.2"/>
<line x1="364.8" y1="71.8" x2="375.3" y2="71.8" stroke="#111" stroke-width="1.35"/>
<g transform="translate(0 0.4)">
<line x1="47.8" y1="218.8" x2="47.8" y2="333.9" stroke="#111" stroke-width="1.3"/>
<line x1="47.3" y1="333.25" x2="410" y2="333.25" stroke="#111" stroke-width="1.3"/>
<line x1="44.7" y1="222" x2="47.8" y2="222" stroke="#111" stroke-width="1.1"/>
<text transform="translate(42.4 224.8)" font-size="7.7" text-anchor="end">12</text>
<line x1="44.7" y1="259.08" x2="47.8" y2="259.08" stroke="#111" stroke-width="1.1"/>
<text transform="translate(42.4 261.88)" font-size="7.7" text-anchor="end">10</text>
<line x1="44.7" y1="296.16" x2="47.8" y2="296.16" stroke="#111" stroke-width="1.1"/>
<text transform="translate(42.4 298.96)" font-size="7.7" text-anchor="end">8</text>
<line x1="44.7" y1="333.24" x2="47.8" y2="333.24" stroke="#111" stroke-width="1.1"/>
<text transform="translate(42.4 336.04)" font-size="7.7" text-anchor="end">6</text>
<text transform="translate(27 276.5) rotate(-90) scale(0.86 1)" font-size="10.2" text-anchor="middle">Log<tspan font-size="6.6" dy="2.2">2</tspan><tspan dy="-2.2"> mRNA expression</tspan></text>
<rect x="54" y="222" width="10" height="5.8" fill="#a90c33"/>
<rect x="54" y="234.2" width="10" height="5.8" fill="#3a3a3c"/>
<text transform="translate(67 227.8)" font-size="8.3" text-anchor="start">MDS/AML</text>
<text transform="translate(67 240)" font-size="8.3" text-anchor="start">Hematopoietic lineages</text>
<line x1="60.45" y1="333.25" x2="60.45" y2="336.9" stroke="#111" stroke-width="1"/>
<line x1="60.45" y1="278.3" x2="60.45" y2="298" stroke="#151515" stroke-width="1.4"/>
<line x1="57.45" y1="278.3" x2="63.45" y2="278.3" stroke="#151515" stroke-width="1.4"/>
<line x1="57.45" y1="298" x2="63.45" y2="298" stroke="#151515" stroke-width="1.4"/>
<rect x="54.65" y="280.25" width="11.6" height="7.5" fill="#3a3a3c" stroke="#2c2c2e" stroke-width="0.5"/>
<line x1="54.4" y1="281.8" x2="66.5" y2="281.8" stroke="#0c0c0c" stroke-width="1.8"/>
<text transform="translate(65.45 342.8) rotate(-45)" font-size="8.3" text-anchor="end">HSC</text>
<line x1="79.12" y1="333.25" x2="79.12" y2="336.9" stroke="#111" stroke-width="1"/>
<line x1="79.12" y1="272.5" x2="79.12" y2="276.8" stroke="#151515" stroke-width="1.4"/>
<line x1="76.12" y1="272.5" x2="82.12" y2="272.5" stroke="#151515" stroke-width="1.4"/>
<line x1="76.12" y1="276.8" x2="82.12" y2="276.8" stroke="#151515" stroke-width="1.4"/>
<rect x="73.32" y="273.55" width="11.6" height="2" fill="#3a3a3c" stroke="#2c2c2e" stroke-width="0.5"/>
<line x1="73.07" y1="274.5" x2="85.17" y2="274.5" stroke="#0c0c0c" stroke-width="1.8"/>
<text transform="translate(84.12 342.8) rotate(-45)" font-size="8.3" text-anchor="end">MPP</text>
<line x1="97.78" y1="333.25" x2="97.78" y2="336.9" stroke="#111" stroke-width="1"/>
<line x1="97.78" y1="268.3" x2="97.78" y2="281.3" stroke="#151515" stroke-width="1.4"/>
<line x1="94.78" y1="268.3" x2="100.78" y2="268.3" stroke="#151515" stroke-width="1.4"/>
<line x1="94.78" y1="281.3" x2="100.78" y2="281.3" stroke="#151515" stroke-width="1.4"/>
<line x1="91.73" y1="274.25" x2="103.83" y2="274.25" stroke="#111" stroke-width="2.2"/>
<text transform="translate(102.78 342.8) rotate(-45)" font-size="8.3" text-anchor="end">CMP</text>
<line x1="116.45" y1="333.25" x2="116.45" y2="336.9" stroke="#111" stroke-width="1"/>
<line x1="116.45" y1="261.3" x2="116.45" y2="276.3" stroke="#151515" stroke-width="1.4"/>
<line x1="113.45" y1="261.3" x2="119.45" y2="261.3" stroke="#151515" stroke-width="1.4"/>
<line x1="113.45" y1="276.3" x2="119.45" y2="276.3" stroke="#151515" stroke-width="1.4"/>
<rect x="110.65" y="264.05" width="11.6" height="10.5" fill="#3a3a3c" stroke="#2c2c2e" stroke-width="0.5"/>
<line x1="110.4" y1="271.5" x2="122.5" y2="271.5" stroke="#0c0c0c" stroke-width="1.8"/>
<text transform="translate(121.45 342.8) rotate(-45)" font-size="8.3" text-anchor="end">GMP</text>
<line x1="135.12" y1="333.25" x2="135.12" y2="336.9" stroke="#111" stroke-width="1"/>
<line x1="135.12" y1="267.5" x2="135.12" y2="285.8" stroke="#151515" stroke-width="1.4"/>
<line x1="132.12" y1="267.5" x2="138.12" y2="267.5" stroke="#151515" stroke-width="1.4"/>
<line x1="132.12" y1="285.8" x2="138.12" y2="285.8" stroke="#151515" stroke-width="1.4"/>
<rect x="129.32" y="268.25" width="11.6" height="14.5" fill="#3a3a3c" stroke="#2c2c2e" stroke-width="0.5"/>
<line x1="129.07" y1="273.5" x2="141.17" y2="273.5" stroke="#0c0c0c" stroke-width="1.8"/>
<text transform="translate(140.12 342.8) rotate(-45)" font-size="8.3" text-anchor="end">MEP</text>
<line x1="153.79" y1="333.25" x2="153.79" y2="336.9" stroke="#111" stroke-width="1"/>
<line x1="153.79" y1="269.3" x2="153.79" y2="280.8" stroke="#151515" stroke-width="1.4"/>
<line x1="150.79" y1="269.3" x2="156.79" y2="269.3" stroke="#151515" stroke-width="1.4"/>
<line x1="150.79" y1="280.8" x2="156.79" y2="280.8" stroke="#151515" stroke-width="1.4"/>
<line x1="147.74" y1="272.75" x2="159.84" y2="272.75" stroke="#111" stroke-width="2.2"/>
<text transform="translate(158.79 342.8) rotate(-45)" font-size="8.3" text-anchor="end">Early PM</text>
<line x1="172.45" y1="333.25" x2="172.45" y2="336.9" stroke="#111" stroke-width="1"/>
<line x1="172.45" y1="294.5" x2="172.45" y2="299" stroke="#151515" stroke-width="1.4"/>
<line x1="169.45" y1="294.5" x2="175.45" y2="294.5" stroke="#151515" stroke-width="1.4"/>
<line x1="169.45" y1="299" x2="175.45" y2="299" stroke="#151515" stroke-width="1.4"/>
<rect x="166.65" y="297.65" width="11.6" height="1.1" fill="#3a3a3c" stroke="#2c2c2e" stroke-width="0.5"/>
<line x1="166.4" y1="298.25" x2="178.5" y2="298.25" stroke="#0c0c0c" stroke-width="1.8"/>
<text transform="translate(177.45 342.8) rotate(-45)" font-size="8.3" text-anchor="end">Late PM</text>
<line x1="191.12" y1="333.25" x2="191.12" y2="336.9" stroke="#111" stroke-width="1"/>
<line x1="191.12" y1="292" x2="191.12" y2="308" stroke="#151515" stroke-width="1.4"/>
<line x1="188.12" y1="292" x2="194.12" y2="292" stroke="#151515" stroke-width="1.4"/>
<line x1="188.12" y1="308" x2="194.12" y2="308" stroke="#151515" stroke-width="1.4"/>
<line x1="185.07" y1="298.25" x2="197.17" y2="298.25" stroke="#111" stroke-width="2.2"/>
<text transform="translate(196.12 342.8) rotate(-45)" font-size="8.3" text-anchor="end">PMN</text>
<line x1="209.79" y1="333.25" x2="209.79" y2="336.9" stroke="#111" stroke-width="1"/>
<line x1="209.79" y1="287.8" x2="209.79" y2="331.8" stroke="#151515" stroke-width="1.4"/>
<line x1="206.79" y1="287.8" x2="212.79" y2="287.8" stroke="#151515" stroke-width="1.4"/>
<line x1="206.79" y1="331.8" x2="212.79" y2="331.8" stroke="#151515" stroke-width="1.4"/>
<line x1="203.74" y1="309.75" x2="215.84" y2="309.75" stroke="#111" stroke-width="2.2"/>
<text transform="translate(214.79 342.8) rotate(-45)" font-size="8.3" text-anchor="end">Metamyelocyte</text>
<line x1="228.45" y1="333.25" x2="228.45" y2="336.9" stroke="#111" stroke-width="1"/>
<line x1="228.45" y1="320" x2="228.45" y2="330" stroke="#151515" stroke-width="1.4"/>
<line x1="225.45" y1="320" x2="231.45" y2="320" stroke="#151515" stroke-width="1.4"/>
<line x1="225.45" y1="330" x2="231.45" y2="330" stroke="#151515" stroke-width="1.4"/>
<line x1="222.4" y1="320" x2="234.5" y2="320" stroke="#111" stroke-width="2.2"/>
<text transform="translate(233.45 342.8) rotate(-45)" font-size="8.3" text-anchor="end">Myelocyte</text>
<line x1="247.12" y1="333.25" x2="247.12" y2="336.9" stroke="#111" stroke-width="1"/>
<line x1="247.12" y1="320.3" x2="247.12" y2="329.8" stroke="#151515" stroke-width="1.4"/>
<line x1="244.12" y1="320.3" x2="250.12" y2="320.3" stroke="#151515" stroke-width="1.4"/>
<line x1="244.12" y1="329.8" x2="250.12" y2="329.8" stroke="#151515" stroke-width="1.4"/>
<rect x="241.32" y="322.75" width="11.6" height="6.5" fill="#3a3a3c" stroke="#2c2c2e" stroke-width="0.5"/>
<line x1="241.07" y1="328.3" x2="253.17" y2="328.3" stroke="#0c0c0c" stroke-width="1.8"/>
<text transform="translate(252.12 342.8) rotate(-45)" font-size="8.3" text-anchor="end">Band cell</text>
<line x1="265.79" y1="333.25" x2="265.79" y2="336.9" stroke="#111" stroke-width="1"/>
<line x1="265.79" y1="245" x2="265.79" y2="268" stroke="#151515" stroke-width="1.4"/>
<line x1="262.79" y1="245" x2="268.79" y2="245" stroke="#151515" stroke-width="1.4"/>
<line x1="262.79" y1="268" x2="268.79" y2="268" stroke="#151515" stroke-width="1.4"/>
<rect x="259.99" y="246.55" width="11.6" height="18" fill="#3a3a3c" stroke="#2c2c2e" stroke-width="0.5"/>
<line x1="259.74" y1="252.5" x2="271.84" y2="252.5" stroke="#0c0c0c" stroke-width="1.8"/>
<text transform="translate(270.79 342.8) rotate(-45)" font-size="8.3" text-anchor="end">Monocyte</text>
<line x1="284.45" y1="333.25" x2="284.45" y2="336.9" stroke="#111" stroke-width="1"/>
<line x1="284.45" y1="259.5" x2="284.45" y2="310.8" stroke="#151515" stroke-width="1.4"/>
<line x1="281.45" y1="259.5" x2="287.45" y2="259.5" stroke="#151515" stroke-width="1.4"/>
<line x1="281.45" y1="310.8" x2="287.45" y2="310.8" stroke="#151515" stroke-width="1.4"/>
<rect x="278.65" y="272.25" width="11.6" height="18" fill="#a90c33" stroke="#7a0a26" stroke-width="0.5"/>
<line x1="278.4" y1="281.3" x2="290.5" y2="281.3" stroke="#3d0612" stroke-width="1.8"/>
<text transform="translate(289.45 342.8) rotate(-45)" font-size="8.3" text-anchor="end">MDS</text>
<line x1="303.12" y1="333.25" x2="303.12" y2="336.9" stroke="#111" stroke-width="1"/>
<line x1="303.12" y1="250.5" x2="303.12" y2="304" stroke="#151515" stroke-width="1.4"/>
<line x1="300.12" y1="250.5" x2="306.12" y2="250.5" stroke="#151515" stroke-width="1.4"/>
<line x1="300.12" y1="304" x2="306.12" y2="304" stroke="#151515" stroke-width="1.4"/>
<rect x="297.32" y="264.25" width="11.6" height="18" fill="#a90c33" stroke="#7a0a26" stroke-width="0.5"/>
<line x1="297.07" y1="272.8" x2="309.17" y2="272.8" stroke="#3d0612" stroke-width="1.8"/>
<text transform="translate(308.12 342.8) rotate(-45)" font-size="8.3" text-anchor="end">AML_Normal</text>
<line x1="321.79" y1="333.25" x2="321.79" y2="336.9" stroke="#111" stroke-width="1"/>
<line x1="321.79" y1="256.8" x2="321.79" y2="313.3" stroke="#151515" stroke-width="1.4"/>
<line x1="318.79" y1="256.8" x2="324.79" y2="256.8" stroke="#151515" stroke-width="1.4"/>
<line x1="318.79" y1="313.3" x2="324.79" y2="313.3" stroke="#151515" stroke-width="1.4"/>
<rect x="315.99" y="268.05" width="11.6" height="19.7" fill="#a90c33" stroke="#7a0a26" stroke-width="0.5"/>
<line x1="315.74" y1="276.3" x2="327.84" y2="276.3" stroke="#3d0612" stroke-width="1.8"/>
<text transform="translate(326.79 342.8) rotate(-45)" font-size="8.3" text-anchor="end">AML_Complex</text>
<line x1="340.45" y1="333.25" x2="340.45" y2="336.9" stroke="#111" stroke-width="1"/>
<line x1="340.45" y1="249.5" x2="340.45" y2="296.8" stroke="#151515" stroke-width="1.4"/>
<line x1="337.45" y1="249.5" x2="343.45" y2="249.5" stroke="#151515" stroke-width="1.4"/>
<line x1="337.45" y1="296.8" x2="343.45" y2="296.8" stroke="#151515" stroke-width="1.4"/>
<rect x="334.65" y="264.25" width="11.6" height="13" fill="#a90c33" stroke="#7a0a26" stroke-width="0.5"/>
<line x1="334.4" y1="271" x2="346.5" y2="271" stroke="#3d0612" stroke-width="1.8"/>
<text transform="translate(345.45 342.8) rotate(-45)" font-size="8.3" text-anchor="end">AML_inv(16)</text>
<line x1="359.12" y1="333.25" x2="359.12" y2="336.9" stroke="#111" stroke-width="1"/>
<line x1="359.12" y1="257.8" x2="359.12" y2="315" stroke="#151515" stroke-width="1.4"/>
<line x1="356.12" y1="257.8" x2="362.12" y2="257.8" stroke="#151515" stroke-width="1.4"/>
<line x1="356.12" y1="315" x2="362.12" y2="315" stroke="#151515" stroke-width="1.4"/>
<rect x="353.32" y="269.55" width="11.6" height="18.7" fill="#a90c33" stroke="#7a0a26" stroke-width="0.5"/>
<line x1="353.07" y1="276.8" x2="365.17" y2="276.8" stroke="#3d0612" stroke-width="1.8"/>
<text transform="translate(364.12 342.8) rotate(-45)" font-size="8.3" text-anchor="end">AML_t(15;17)</text>
<line x1="377.79" y1="333.25" x2="377.79" y2="336.9" stroke="#111" stroke-width="1"/>
<line x1="377.79" y1="248" x2="377.79" y2="298.3" stroke="#151515" stroke-width="1.4"/>
<line x1="374.79" y1="248" x2="380.79" y2="248" stroke="#151515" stroke-width="1.4"/>
<line x1="374.79" y1="298.3" x2="380.79" y2="298.3" stroke="#151515" stroke-width="1.4"/>
<rect x="371.99" y="260.55" width="11.6" height="17.2" fill="#a90c33" stroke="#7a0a26" stroke-width="0.5"/>
<line x1="371.74" y1="267.5" x2="383.84" y2="267.5" stroke="#3d0612" stroke-width="1.8"/>
<text transform="translate(382.79 342.8) rotate(-45)" font-size="8.3" text-anchor="end">AML_t(8;21)</text>
<line x1="396.46" y1="333.25" x2="396.46" y2="336.9" stroke="#111" stroke-width="1"/>
<line x1="396.46" y1="243.8" x2="396.46" y2="308.8" stroke="#151515" stroke-width="1.4"/>
<line x1="393.46" y1="243.8" x2="399.46" y2="243.8" stroke="#151515" stroke-width="1.4"/>
<line x1="393.46" y1="308.8" x2="399.46" y2="308.8" stroke="#151515" stroke-width="1.4"/>
<rect x="390.66" y="255.75" width="11.6" height="19.5" fill="#a90c33" stroke="#7a0a26" stroke-width="0.5"/>
<line x1="390.41" y1="265.5" x2="402.51" y2="265.5" stroke="#3d0612" stroke-width="1.8"/>
<text transform="translate(401.46 342.8) rotate(-45)" font-size="8.3" text-anchor="end">AML_t(11q23)/MLL</text>
</g>
<defs><filter id="b1" x="-30%" y="-100%" width="160%" height="300%"><feGaussianBlur stdDeviation="1.1 0.7"/></filter><filter id="b2" x="-30%" y="-100%" width="160%" height="300%"><feGaussianBlur stdDeviation="0.9 0.5"/></filter></defs>
<text transform="translate(80.8 425)" font-size="9.9" text-anchor="middle" class="b">MOLM-13</text>
<text transform="translate(146.9 425)" font-size="9.9" text-anchor="middle" class="b">SKM-1</text>
<text transform="translate(215 425)" font-size="9.9" text-anchor="middle" class="b">THP-1</text>
<text transform="translate(281.8 425)" font-size="9.9" text-anchor="middle" class="b">U-937</text>
<text transform="translate(46.9 481.2)" font-size="8.2" text-anchor="end">ZEB2</text>
<text transform="translate(46.9 505)" font-size="8.2" text-anchor="end">GAPDH</text>
<rect x="50.1" y="467.1" width="61.4" height="22.2" fill="#fafafa"/>
<rect x="50.1" y="493.9" width="61.4" height="16.6" fill="#f6f6f6"/>
<clipPath id="cz0"><rect x="50.1" y="466.8" width="61.4" height="22.5"/></clipPath><clipPath id="cg0"><rect x="50.1" y="493.5" width="61.4" height="17"/></clipPath>
<g clip-path="url(#cz0)">
<rect x="54.5" y="478.6" width="10" height="3.6" rx="1.8" fill="#000" opacity="1" filter="url(#b1)"/>
<rect x="69" y="479.7" width="9" height="3" rx="1.5" fill="#000" opacity="0.32" filter="url(#b1)"/>
<rect x="83.6" y="479.7" width="9" height="3" rx="1.5" fill="#000" opacity="0.3" filter="url(#b1)"/>
<rect x="98.5" y="479.9" width="8" height="2.6" rx="1.3" fill="#000" opacity="0.12" filter="url(#b1)"/>
<rect x="55.5" y="472.3" width="8" height="2.4" rx="1.2" fill="#000" opacity="0.15" filter="url(#b1)"/>
<rect x="69.5" y="473.5" width="8" height="2" rx="1" fill="#000" opacity="0.06" filter="url(#b1)"/>
<rect x="55.5" y="485.5" width="8" height="2" rx="1" fill="#000" opacity="0.08" filter="url(#b1)"/>
</g>
<g clip-path="url(#cg0)">
<rect x="54.1" y="500.7" width="53.4" height="2.6" rx="1.3" fill="#000" opacity="0.3" filter="url(#b2)"/>
<rect x="54.25" y="499.9" width="10.5" height="3" rx="1.5" fill="#000" opacity="0.92" filter="url(#b2)"/>
<rect x="68.5" y="500.6" width="10" height="2.8" rx="1.4" fill="#000" opacity="0.87" filter="url(#b2)"/>
<rect x="83.1" y="500.6" width="10" height="2.8" rx="1.4" fill="#000" opacity="0.87" filter="url(#b2)"/>
<rect x="97.5" y="500.2" width="10" height="2.8" rx="1.4" fill="#000" opacity="0.87" filter="url(#b2)"/>
</g>
<rect x="50.1" y="467.1" width="61.4" height="22.1" fill="none" stroke="#111" stroke-width="1.25"/>
<rect x="50.1" y="493.9" width="61.4" height="16.5" fill="none" stroke="#111" stroke-width="1.25"/>
<text transform="translate(59.4 463.8) rotate(-50) scale(0.93 1)" font-size="8.8" text-anchor="start">Luc</text>
<text transform="translate(72.5 463.8) rotate(-50) scale(0.93 1)" font-size="8.8" text-anchor="start">ZEB2-382</text>
<text transform="translate(86.9 463.8) rotate(-50) scale(0.93 1)" font-size="8.8" text-anchor="start">ZEB2-528</text>
<text transform="translate(101.4 463.8) rotate(-50) scale(0.93 1)" font-size="8.8" text-anchor="start">ZEB2-531</text>
<rect x="117" y="467.1" width="61.4" height="22.2" fill="#fafafa"/>
<rect x="117" y="493.9" width="61.4" height="16.6" fill="#f6f6f6"/>
<clipPath id="cz1"><rect x="117" y="466.8" width="61.4" height="22.5"/></clipPath><clipPath id="cg1"><rect x="117" y="493.5" width="61.4" height="17"/></clipPath>
<g clip-path="url(#cz1)">
<rect x="120" y="481.5" width="10" height="3.8" rx="1.9" fill="#000" opacity="1" filter="url(#b1)"/>
<rect x="135" y="481" width="9" height="3" rx="1.5" fill="#000" opacity="0.35" filter="url(#b1)"/>
<rect x="151.5" y="480.4" width="8" height="3.2" rx="1.6" fill="#000" opacity="0.42" filter="url(#b1)"/>
<rect x="165.5" y="481.2" width="8" height="2.6" rx="1.3" fill="#000" opacity="0.1" filter="url(#b1)"/>
<rect x="120.5" y="473.7" width="9" height="2.6" rx="1.3" fill="#000" opacity="0.28" filter="url(#b1)"/>
<rect x="135.5" y="474" width="8" height="2" rx="1" fill="#000" opacity="0.08" filter="url(#b1)"/>
<rect x="152" y="474" width="7" height="2" rx="1" fill="#000" opacity="0.06" filter="url(#b1)"/>
</g>
<g clip-path="url(#cg1)">
<rect x="121" y="501.7" width="53.4" height="2.6" rx="1.3" fill="#000" opacity="0.3" filter="url(#b2)"/>
<rect x="119.75" y="501.1" width="10.5" height="3" rx="1.5" fill="#000" opacity="0.92" filter="url(#b2)"/>
<rect x="134.5" y="501.6" width="10" height="2.8" rx="1.4" fill="#000" opacity="0.87" filter="url(#b2)"/>
<rect x="150" y="501.6" width="10" height="2.8" rx="1.4" fill="#000" opacity="0.87" filter="url(#b2)"/>
<rect x="164.5" y="501.6" width="10" height="2.8" rx="1.4" fill="#000" opacity="0.87" filter="url(#b2)"/>
</g>
<rect x="117" y="467.1" width="61.4" height="22.1" fill="none" stroke="#111" stroke-width="1.25"/>
<rect x="117" y="493.9" width="61.4" height="16.5" fill="none" stroke="#111" stroke-width="1.25"/>
<text transform="translate(126.4 463.8) rotate(-50) scale(0.93 1)" font-size="8.8" text-anchor="start">Luc</text>
<text transform="translate(139.5 463.8) rotate(-50) scale(0.93 1)" font-size="8.8" text-anchor="start">ZEB2-382</text>
<text transform="translate(153.9 463.8) rotate(-50) scale(0.93 1)" font-size="8.8" text-anchor="start">ZEB2-528</text>
<text transform="translate(168.4 463.8) rotate(-50) scale(0.93 1)" font-size="8.8" text-anchor="start">ZEB2-531</text>
<rect x="185" y="467.1" width="60.7" height="22.2" fill="#fafafa"/>
<rect x="185" y="493.9" width="60.7" height="16.6" fill="#f6f6f6"/>
<clipPath id="cz2"><rect x="185" y="466.8" width="60.7" height="22.5"/></clipPath><clipPath id="cg2"><rect x="185" y="493.5" width="60.7" height="17"/></clipPath>
<g clip-path="url(#cz2)">
<rect x="187.5" y="477" width="10" height="3.6" rx="1.8" fill="#000" opacity="1" filter="url(#b1)"/>
<rect x="202.75" y="477.8" width="8.5" height="3" rx="1.5" fill="#000" opacity="0.45" filter="url(#b1)"/>
<rect x="217.25" y="478.1" width="8.5" height="3" rx="1.5" fill="#000" opacity="0.45" filter="url(#b1)"/>
<rect x="232" y="478.6" width="8" height="2.8" rx="1.4" fill="#000" opacity="0.25" filter="url(#b1)"/>
<rect x="188.5" y="471" width="8" height="2" rx="1" fill="#000" opacity="0.12" filter="url(#b1)"/>
<rect x="203" y="471.5" width="8" height="2" rx="1" fill="#000" opacity="0.06" filter="url(#b1)"/>
</g>
<g clip-path="url(#cg2)">
<rect x="189" y="501.3" width="52.7" height="2.6" rx="1.3" fill="#000" opacity="0.3" filter="url(#b2)"/>
<rect x="187.25" y="501.2" width="10.5" height="2.8" rx="1.4" fill="#000" opacity="0.87" filter="url(#b2)"/>
<rect x="202" y="501.2" width="10" height="2.8" rx="1.4" fill="#000" opacity="0.87" filter="url(#b2)"/>
<rect x="216.5" y="501.4" width="10" height="2.8" rx="1.4" fill="#000" opacity="0.87" filter="url(#b2)"/>
<rect x="231.25" y="501.3" width="9.5" height="2.6" rx="1.3" fill="#000" opacity="0.83" filter="url(#b2)"/>
</g>
<rect x="185" y="467.1" width="60.7" height="22.1" fill="none" stroke="#111" stroke-width="1.25"/>
<rect x="185" y="493.9" width="60.7" height="16.5" fill="none" stroke="#111" stroke-width="1.25"/>
<text transform="translate(193.9 463.8) rotate(-50) scale(0.93 1)" font-size="8.8" text-anchor="start">Luc</text>
<text transform="translate(207 463.8) rotate(-50) scale(0.93 1)" font-size="8.8" text-anchor="start">ZEB2-382</text>
<text transform="translate(221.4 463.8) rotate(-50) scale(0.93 1)" font-size="8.8" text-anchor="start">ZEB2-528</text>
<text transform="translate(235.9 463.8) rotate(-50) scale(0.93 1)" font-size="8.8" text-anchor="start">ZEB2-531</text>
<rect x="251.1" y="467.1" width="61.5" height="22.2" fill="#fafafa"/>
<rect x="251.1" y="493.9" width="61.5" height="16.6" fill="#f6f6f6"/>
<clipPath id="cz3"><rect x="251.1" y="466.8" width="61.5" height="22.5"/></clipPath><clipPath id="cg3"><rect x="251.1" y="493.5" width="61.5" height="17"/></clipPath>
<g clip-path="url(#cz3)">
<rect x="253.8" y="476.2" width="8" height="6" rx="3" fill="#000" opacity="0.95" filter="url(#b1)"/>
<rect x="267.2" y="476.6" width="10" height="3.6" rx="1.8" fill="#000" opacity="0.95" filter="url(#b1)"/>
<rect x="283.5" y="477" width="9" height="2.8" rx="1.4" fill="#000" opacity="0.3" filter="url(#b1)"/>
<rect x="298.5" y="476.7" width="10" height="3" rx="1.5" fill="#000" opacity="0.32" filter="url(#b1)"/>
<rect x="254.3" y="473" width="7" height="3" rx="1.5" fill="#000" opacity="0.3" filter="url(#b1)"/>
</g>
<g clip-path="url(#cg3)">
<rect x="255.1" y="500.1" width="53.5" height="2.6" rx="1.3" fill="#000" opacity="0.3" filter="url(#b2)"/>
<rect x="253.3" y="499.7" width="9" height="3.8" rx="1.9" fill="#000" opacity="0.92" filter="url(#b2)"/>
<rect x="266.95" y="499.9" width="10.5" height="3" rx="1.5" fill="#000" opacity="0.92" filter="url(#b2)"/>
<rect x="282.75" y="500.1" width="10.5" height="3" rx="1.5" fill="#000" opacity="0.92" filter="url(#b2)"/>
<rect x="298.25" y="499.9" width="10.5" height="3" rx="1.5" fill="#000" opacity="0.92" filter="url(#b2)"/>
</g>
<rect x="251.1" y="467.1" width="61.5" height="22.1" fill="none" stroke="#111" stroke-width="1.25"/>
<rect x="251.1" y="493.9" width="61.5" height="16.5" fill="none" stroke="#111" stroke-width="1.25"/>
<text transform="translate(260.4 463.8) rotate(-50) scale(0.93 1)" font-size="8.8" text-anchor="start">Luc</text>
<text transform="translate(273.5 463.8) rotate(-50) scale(0.93 1)" font-size="8.8" text-anchor="start">ZEB2-382</text>
<text transform="translate(287.9 463.8) rotate(-50) scale(0.93 1)" font-size="8.8" text-anchor="start">ZEB2-528</text>
<text transform="translate(302.4 463.8) rotate(-50) scale(0.93 1)" font-size="8.8" text-anchor="start">ZEB2-531</text>
<line x1="56.9" y1="549.3" x2="56.9" y2="699" stroke="#111" stroke-width="1.5"/>
<line x1="56.3" y1="698.3" x2="307.2" y2="698.3" stroke="#111" stroke-width="1.4"/>
<line x1="54.2" y1="698.25" x2="56.8" y2="698.25" stroke="#111" stroke-width="1"/>
<text transform="translate(49.5 701.3) scale(0.92 1)" font-size="8.5" text-anchor="end">0%</text>
<line x1="54.2" y1="673.89" x2="56.8" y2="673.89" stroke="#111" stroke-width="1"/>
<text transform="translate(49.5 676.94) scale(0.92 1)" font-size="8.5" text-anchor="end">20%</text>
<line x1="54.2" y1="649.53" x2="56.8" y2="649.53" stroke="#111" stroke-width="1"/>
<text transform="translate(49.5 652.58) scale(0.92 1)" font-size="8.5" text-anchor="end">40%</text>
<line x1="54.2" y1="625.17" x2="56.8" y2="625.17" stroke="#111" stroke-width="1"/>
<text transform="translate(49.5 628.22) scale(0.92 1)" font-size="8.5" text-anchor="end">60%</text>
<line x1="54.2" y1="600.81" x2="56.8" y2="600.81" stroke="#111" stroke-width="1"/>
<text transform="translate(49.5 603.86) scale(0.92 1)" font-size="8.5" text-anchor="end">80%</text>
<line x1="54.2" y1="576.45" x2="56.8" y2="576.45" stroke="#111" stroke-width="1"/>
<text transform="translate(49.5 579.5) scale(0.92 1)" font-size="8.5" text-anchor="end">100%</text>
<line x1="54.2" y1="552.09" x2="56.8" y2="552.09" stroke="#111" stroke-width="1"/>
<text transform="translate(49.5 555.14) scale(0.92 1)" font-size="8.5" text-anchor="end">120%</text>
<text transform="translate(23.6 624.2) rotate(-90) scale(0.88 1)" font-size="10" text-anchor="middle">Normalized cell number</text>
<text transform="translate(87.6 551)" font-size="9.9" text-anchor="middle" class="b">MOLM-13</text>
<text transform="translate(149 551)" font-size="9.9" text-anchor="middle" class="b">SKM-1</text>
<text transform="translate(211 551)" font-size="9.9" text-anchor="middle" class="b">THP-1</text>
<text transform="translate(273.2 551)" font-size="9.9" text-anchor="middle" class="b">U-937</text>
<rect x="58.8" y="576.5" width="6.57" height="121.75" fill="#000"/>
<line x1="62.06" y1="561.1" x2="62.06" y2="576.5" stroke="#111" stroke-width="1.2"/>
<line x1="59" y1="561.4" x2="65.12" y2="561.4" stroke="#111" stroke-width="1.2"/>
<rect x="65.32" y="628" width="6.57" height="70.25" fill="#a90c33"/>
<line x1="68.58" y1="622.5" x2="68.58" y2="628" stroke="#111" stroke-width="1.2"/>
<line x1="65.52" y1="622.8" x2="71.64" y2="622.8" stroke="#111" stroke-width="1.2"/>
<rect x="71.84" y="644.5" width="6.57" height="53.75" fill="#d4948a"/>
<line x1="75.1" y1="643.7" x2="75.1" y2="644.5" stroke="#111" stroke-width="1.2"/>
<line x1="72.04" y1="644" x2="78.16" y2="644" stroke="#111" stroke-width="1.2"/>
<rect x="78.36" y="644" width="6.57" height="54.25" fill="#eccbbd"/>
<line x1="81.62" y1="643.2" x2="81.62" y2="644" stroke="#111" stroke-width="1.2"/>
<line x1="78.56" y1="643.5" x2="84.68" y2="643.5" stroke="#111" stroke-width="1.2"/>
<rect x="89.75" y="576.5" width="6.57" height="121.75" fill="#000"/>
<line x1="93.01" y1="560.7" x2="93.01" y2="576.5" stroke="#111" stroke-width="1.2"/>
<line x1="89.95" y1="561" x2="96.07" y2="561" stroke="#111" stroke-width="1.2"/>
<rect x="96.27" y="667.8" width="6.57" height="30.45" fill="#a90c33"/>
<line x1="99.53" y1="660" x2="99.53" y2="667.8" stroke="#111" stroke-width="1.2"/>
<line x1="96.47" y1="660.3" x2="102.59" y2="660.3" stroke="#111" stroke-width="1.2"/>
<rect x="102.79" y="676" width="6.57" height="22.25" fill="#d4948a"/>
<line x1="106.05" y1="665.2" x2="106.05" y2="676" stroke="#111" stroke-width="1.2"/>
<line x1="102.99" y1="665.5" x2="109.11" y2="665.5" stroke="#111" stroke-width="1.2"/>
<rect x="109.31" y="673.5" width="6.57" height="24.75" fill="#eccbbd"/>
<line x1="112.57" y1="666.5" x2="112.57" y2="673.5" stroke="#111" stroke-width="1.2"/>
<line x1="109.51" y1="666.8" x2="115.63" y2="666.8" stroke="#111" stroke-width="1.2"/>
<rect x="120.7" y="576.5" width="6.57" height="121.75" fill="#000"/>
<line x1="123.96" y1="572.7" x2="123.96" y2="576.5" stroke="#111" stroke-width="1.2"/>
<line x1="120.9" y1="573" x2="127.02" y2="573" stroke="#111" stroke-width="1.2"/>
<rect x="127.22" y="621" width="6.57" height="77.25" fill="#a90c33"/>
<line x1="130.48" y1="616.5" x2="130.48" y2="621" stroke="#111" stroke-width="1.2"/>
<line x1="127.42" y1="616.8" x2="133.54" y2="616.8" stroke="#111" stroke-width="1.2"/>
<rect x="133.74" y="627.3" width="6.57" height="70.95" fill="#d4948a"/>
<line x1="137" y1="619.5" x2="137" y2="627.3" stroke="#111" stroke-width="1.2"/>
<line x1="133.94" y1="619.8" x2="140.06" y2="619.8" stroke="#111" stroke-width="1.2"/>
<rect x="140.26" y="637.5" width="6.57" height="60.75" fill="#eccbbd"/>
<line x1="143.52" y1="628.2" x2="143.52" y2="637.5" stroke="#111" stroke-width="1.2"/>
<line x1="140.46" y1="628.5" x2="146.58" y2="628.5" stroke="#111" stroke-width="1.2"/>
<rect x="151.65" y="576.5" width="6.57" height="121.75" fill="#000"/>
<line x1="154.91" y1="561.5" x2="154.91" y2="576.5" stroke="#111" stroke-width="1.2"/>
<line x1="151.85" y1="561.8" x2="157.97" y2="561.8" stroke="#111" stroke-width="1.2"/>
<rect x="158.17" y="657.3" width="6.57" height="40.95" fill="#a90c33"/>
<line x1="161.43" y1="654" x2="161.43" y2="657.3" stroke="#111" stroke-width="1.2"/>
<line x1="158.37" y1="654.3" x2="164.49" y2="654.3" stroke="#111" stroke-width="1.2"/>
<rect x="164.69" y="665.5" width="6.57" height="32.75" fill="#d4948a"/>
<line x1="167.95" y1="660.7" x2="167.95" y2="665.5" stroke="#111" stroke-width="1.2"/>
<line x1="164.89" y1="661" x2="171.01" y2="661" stroke="#111" stroke-width="1.2"/>
<rect x="171.21" y="681" width="6.57" height="17.25" fill="#eccbbd"/>
<line x1="174.47" y1="678.7" x2="174.47" y2="681" stroke="#111" stroke-width="1.2"/>
<line x1="171.41" y1="679" x2="177.53" y2="679" stroke="#111" stroke-width="1.2"/>
<rect x="182.6" y="576.5" width="6.57" height="121.75" fill="#000"/>
<line x1="185.86" y1="573.1" x2="185.86" y2="576.5" stroke="#111" stroke-width="1.2"/>
<line x1="182.8" y1="573.4" x2="188.92" y2="573.4" stroke="#111" stroke-width="1.2"/>
<rect x="189.12" y="614.5" width="6.57" height="83.75" fill="#a90c33"/>
<line x1="192.38" y1="606.2" x2="192.38" y2="614.5" stroke="#111" stroke-width="1.2"/>
<line x1="189.32" y1="606.5" x2="195.44" y2="606.5" stroke="#111" stroke-width="1.2"/>
<rect x="195.64" y="632.3" width="6.57" height="65.95" fill="#d4948a"/>
<line x1="198.9" y1="624" x2="198.9" y2="632.3" stroke="#111" stroke-width="1.2"/>
<line x1="195.84" y1="624.3" x2="201.96" y2="624.3" stroke="#111" stroke-width="1.2"/>
<rect x="202.16" y="678" width="6.57" height="20.25" fill="#eccbbd"/>
<line x1="205.42" y1="673.2" x2="205.42" y2="678" stroke="#111" stroke-width="1.2"/>
<line x1="202.36" y1="673.5" x2="208.48" y2="673.5" stroke="#111" stroke-width="1.2"/>
<rect x="213.55" y="576.5" width="6.57" height="121.75" fill="#000"/>
<line x1="216.81" y1="572.7" x2="216.81" y2="576.5" stroke="#111" stroke-width="1.2"/>
<line x1="213.75" y1="573" x2="219.87" y2="573" stroke="#111" stroke-width="1.2"/>
<rect x="220.07" y="641.8" width="6.57" height="56.45" fill="#a90c33"/>
<line x1="223.33" y1="639.5" x2="223.33" y2="641.8" stroke="#111" stroke-width="1.2"/>
<line x1="220.27" y1="639.8" x2="226.39" y2="639.8" stroke="#111" stroke-width="1.2"/>
<rect x="226.59" y="650.5" width="6.57" height="47.75" fill="#d4948a"/>
<line x1="229.85" y1="645.7" x2="229.85" y2="650.5" stroke="#111" stroke-width="1.2"/>
<line x1="226.79" y1="646" x2="232.91" y2="646" stroke="#111" stroke-width="1.2"/>
<rect x="233.11" y="692.3" width="6.57" height="5.95" fill="#eccbbd"/>
<line x1="236.37" y1="690.2" x2="236.37" y2="692.3" stroke="#111" stroke-width="1.2"/>
<line x1="233.31" y1="690.5" x2="239.43" y2="690.5" stroke="#111" stroke-width="1.2"/>
<rect x="244.5" y="576.5" width="6.57" height="121.75" fill="#000"/>
<line x1="247.76" y1="572.7" x2="247.76" y2="576.5" stroke="#111" stroke-width="1.2"/>
<line x1="244.7" y1="573" x2="250.82" y2="573" stroke="#111" stroke-width="1.2"/>
<rect x="251.02" y="595.3" width="6.57" height="102.95" fill="#a90c33"/>
<line x1="254.28" y1="590.7" x2="254.28" y2="595.3" stroke="#111" stroke-width="1.2"/>
<line x1="251.22" y1="591" x2="257.34" y2="591" stroke="#111" stroke-width="1.2"/>
<rect x="257.54" y="644.8" width="6.57" height="53.45" fill="#d4948a"/>
<line x1="260.8" y1="628.2" x2="260.8" y2="644.8" stroke="#111" stroke-width="1.2"/>
<line x1="257.74" y1="628.5" x2="263.86" y2="628.5" stroke="#111" stroke-width="1.2"/>
<rect x="264.06" y="643.5" width="6.57" height="54.75" fill="#eccbbd"/>
<line x1="267.32" y1="638.2" x2="267.32" y2="643.5" stroke="#111" stroke-width="1.2"/>
<line x1="264.26" y1="638.5" x2="270.38" y2="638.5" stroke="#111" stroke-width="1.2"/>
<rect x="275.45" y="576.5" width="6.57" height="121.75" fill="#000"/>
<line x1="278.71" y1="561.5" x2="278.71" y2="576.5" stroke="#111" stroke-width="1.2"/>
<line x1="275.65" y1="561.8" x2="281.77" y2="561.8" stroke="#111" stroke-width="1.2"/>
<rect x="281.97" y="638" width="6.57" height="60.25" fill="#a90c33"/>
<line x1="285.23" y1="632" x2="285.23" y2="638" stroke="#111" stroke-width="1.2"/>
<line x1="282.17" y1="632.3" x2="288.29" y2="632.3" stroke="#111" stroke-width="1.2"/>
<rect x="288.49" y="689" width="6.57" height="9.25" fill="#d4948a"/>
<line x1="291.75" y1="688" x2="291.75" y2="689" stroke="#111" stroke-width="1.2"/>
<line x1="288.69" y1="688.3" x2="294.81" y2="688.3" stroke="#111" stroke-width="1.2"/>
<rect x="295.01" y="686.8" width="6.57" height="11.45" fill="#eccbbd"/>
<line x1="298.27" y1="683.2" x2="298.27" y2="686.8" stroke="#111" stroke-width="1.2"/>
<line x1="295.21" y1="683.5" x2="301.33" y2="683.5" stroke="#111" stroke-width="1.2"/>
<line x1="56.8" y1="698.25" x2="56.8" y2="701.6" stroke="#111" stroke-width="1"/>
<line x1="87.73" y1="698.25" x2="87.73" y2="701.6" stroke="#111" stroke-width="1"/>
<line x1="118.66" y1="698.25" x2="118.66" y2="701.6" stroke="#111" stroke-width="1"/>
<line x1="149.59" y1="698.25" x2="149.59" y2="701.6" stroke="#111" stroke-width="1"/>
<line x1="180.52" y1="698.25" x2="180.52" y2="701.6" stroke="#111" stroke-width="1"/>
<line x1="211.45" y1="698.25" x2="211.45" y2="701.6" stroke="#111" stroke-width="1"/>
<line x1="242.38" y1="698.25" x2="242.38" y2="701.6" stroke="#111" stroke-width="1"/>
<line x1="273.31" y1="698.25" x2="273.31" y2="701.6" stroke="#111" stroke-width="1"/>
<line x1="304.24" y1="698.25" x2="304.24" y2="701.6" stroke="#111" stroke-width="1"/>
<text transform="translate(72.1 711.9) scale(0.95 1)" font-size="8.5" text-anchor="middle">5</text>
<text transform="translate(103.03 711.9) scale(0.95 1)" font-size="8.5" text-anchor="middle">11</text>
<text transform="translate(133.96 711.9) scale(0.95 1)" font-size="8.5" text-anchor="middle">5</text>
<text transform="translate(164.89 711.9) scale(0.95 1)" font-size="8.5" text-anchor="middle">11</text>
<text transform="translate(195.82 711.9) scale(0.95 1)" font-size="8.5" text-anchor="middle">5</text>
<text transform="translate(226.75 711.9) scale(0.95 1)" font-size="8.5" text-anchor="middle">11</text>
<text transform="translate(257.68 711.9) scale(0.95 1)" font-size="8.5" text-anchor="middle">5</text>
<text transform="translate(288.61 711.9) scale(0.95 1)" font-size="8.5" text-anchor="middle">11</text>
<text transform="translate(181.6 725.3) scale(0.86 1)" font-size="10" text-anchor="middle">Day</text>
<rect x="287.2" y="567.2" width="4.6" height="4.6" fill="#000"/>
<text transform="translate(294.6 572.5) scale(0.91 1)" font-size="8.5" text-anchor="start">Luc</text>
<rect x="287.2" y="577.7" width="4.6" height="4.6" fill="#a90c33"/>
<text transform="translate(294.6 583) scale(0.91 1)" font-size="8.5" text-anchor="start">ZEB2-382</text>
<rect x="287.2" y="588.2" width="4.6" height="4.6" fill="#d4948a"/>
<text transform="translate(294.6 593.5) scale(0.91 1)" font-size="8.5" text-anchor="start">ZEB2-528</text>
<rect x="287.2" y="598.7" width="4.6" height="4.6" fill="#eccbbd"/>
<text transform="translate(294.6 604) scale(0.91 1)" font-size="8.5" text-anchor="start">ZEB2-531</text>
<line x1="384.6" y1="431" x2="384.6" y2="538.8" stroke="#111" stroke-width="1.5"/>
<line x1="384" y1="538.1" x2="511.3" y2="538.1" stroke="#111" stroke-width="1.4"/>
<line x1="381.9" y1="538.1" x2="384.5" y2="538.1" stroke="#111" stroke-width="1"/>
<text transform="translate(377.6 541.15) scale(0.92 1)" font-size="8.5" text-anchor="end">0%</text>
<line x1="381.9" y1="520.7" x2="384.5" y2="520.7" stroke="#111" stroke-width="1"/>
<text transform="translate(377.6 523.75) scale(0.92 1)" font-size="8.5" text-anchor="end">20%</text>
<line x1="381.9" y1="503.3" x2="384.5" y2="503.3" stroke="#111" stroke-width="1"/>
<text transform="translate(377.6 506.35) scale(0.92 1)" font-size="8.5" text-anchor="end">40%</text>
<line x1="381.9" y1="485.9" x2="384.5" y2="485.9" stroke="#111" stroke-width="1"/>
<text transform="translate(377.6 488.95) scale(0.92 1)" font-size="8.5" text-anchor="end">60%</text>
<line x1="381.9" y1="468.5" x2="384.5" y2="468.5" stroke="#111" stroke-width="1"/>
<text transform="translate(377.6 471.55) scale(0.92 1)" font-size="8.5" text-anchor="end">80%</text>
<line x1="381.9" y1="451.1" x2="384.5" y2="451.1" stroke="#111" stroke-width="1"/>
<text transform="translate(377.6 454.15) scale(0.92 1)" font-size="8.5" text-anchor="end">100%</text>
<line x1="381.9" y1="433.7" x2="384.5" y2="433.7" stroke="#111" stroke-width="1"/>
<text transform="translate(377.6 436.75) scale(0.92 1)" font-size="8.5" text-anchor="end">120%</text>
<line x1="384.5" y1="538.1" x2="384.5" y2="541.4" stroke="#111" stroke-width="1"/>
<text transform="translate(384.5 551) scale(0.95 1)" font-size="8.5" text-anchor="middle">4</text>
<line x1="425.75" y1="538.1" x2="425.75" y2="541.4" stroke="#111" stroke-width="1"/>
<text transform="translate(425.75 551) scale(0.95 1)" font-size="8.5" text-anchor="middle">9</text>
<line x1="467" y1="538.1" x2="467" y2="541.4" stroke="#111" stroke-width="1"/>
<text transform="translate(467 551) scale(0.95 1)" font-size="8.5" text-anchor="middle">14</text>
<line x1="508.25" y1="538.1" x2="508.25" y2="541.4" stroke="#111" stroke-width="1"/>
<text transform="translate(508.85 551) scale(0.95 1)" font-size="8.5" text-anchor="middle">19</text>
<text transform="translate(448 564.8) scale(0.89 1)" font-size="10" text-anchor="middle">Day post infection</text>
<text transform="translate(352 483.3) rotate(-90) scale(0.87 1)" font-size="10" text-anchor="middle">Normalized %GFP+ cells</text>
<text transform="translate(448 425.3)" font-size="9.9" text-anchor="middle" class="b">HL-60</text>
<polyline points="384.5,451.1 417.5,450.8 458.75,466.5 500,478" fill="none" stroke="#0c0c0c" stroke-width="1.8" stroke-linejoin="round"/>
<line x1="417.5" y1="445.5" x2="417.5" y2="455.8" stroke="#111" stroke-width="1.2"/>
<line x1="414" y1="445.5" x2="421" y2="445.5" stroke="#111" stroke-width="1.2"/>
<line x1="414" y1="455.8" x2="421" y2="455.8" stroke="#111" stroke-width="1.2"/>
<line x1="458.75" y1="461" x2="458.75" y2="472" stroke="#111" stroke-width="1.2"/>
<line x1="455.25" y1="461" x2="462.25" y2="461" stroke="#111" stroke-width="1.2"/>
<line x1="455.25" y1="472" x2="462.25" y2="472" stroke="#111" stroke-width="1.2"/>
<line x1="500" y1="473" x2="500" y2="482.3" stroke="#111" stroke-width="1.2"/>
<line x1="496.5" y1="473" x2="503.5" y2="473" stroke="#111" stroke-width="1.2"/>
<line x1="496.5" y1="482.3" x2="503.5" y2="482.3" stroke="#111" stroke-width="1.2"/>
<circle cx="384.5" cy="451.1" r="2.5" fill="#0c0c0c"/>
<circle cx="417.5" cy="450.8" r="2.5" fill="#0c0c0c"/>
<circle cx="458.75" cy="466.5" r="2.5" fill="#0c0c0c"/>
<circle cx="500" cy="478" r="2.5" fill="#0c0c0c"/>
<polyline points="384.5,451.1 417.5,478.3 458.75,515.8 500,527.3" fill="none" stroke="#960f35" stroke-width="1.8" stroke-linejoin="round"/>
<line x1="417.5" y1="475.3" x2="417.5" y2="481" stroke="#6e0a26" stroke-width="1.2"/>
<line x1="414" y1="475.3" x2="421" y2="475.3" stroke="#6e0a26" stroke-width="1.2"/>
<line x1="414" y1="481" x2="421" y2="481" stroke="#6e0a26" stroke-width="1.2"/>
<line x1="458.75" y1="515.3" x2="458.75" y2="516.3" stroke="#6e0a26" stroke-width="1.2"/>
<line x1="455.25" y1="515.3" x2="462.25" y2="515.3" stroke="#6e0a26" stroke-width="1.2"/>
<line x1="455.25" y1="516.3" x2="462.25" y2="516.3" stroke="#6e0a26" stroke-width="1.2"/>
<line x1="500" y1="526.5" x2="500" y2="528" stroke="#6e0a26" stroke-width="1.2"/>
<line x1="496.5" y1="526.5" x2="503.5" y2="526.5" stroke="#6e0a26" stroke-width="1.2"/>
<line x1="496.5" y1="528" x2="503.5" y2="528" stroke="#6e0a26" stroke-width="1.2"/>
<rect x="382.3" y="448.9" width="4.4" height="4.4" fill="#960f35"/>
<rect x="415.3" y="476.1" width="4.4" height="4.4" fill="#960f35"/>
<rect x="456.55" y="513.6" width="4.4" height="4.4" fill="#960f35"/>
<rect x="497.8" y="525.1" width="4.4" height="4.4" fill="#960f35"/>
<line x1="440.7" y1="437.9" x2="456.5" y2="437.9" stroke="#0c0c0c" stroke-width="1.5"/>
<circle cx="448.5" cy="437.9" r="2.15" fill="#0c0c0c"/>
<text transform="translate(459.4 440.9) scale(0.91 1)" font-size="8.5" text-anchor="start">ZEB2-531-sc</text>
<line x1="440.7" y1="448.5" x2="456.5" y2="448.5" stroke="#8a0f33" stroke-width="1.5"/>
<rect x="446.5" y="446.5" width="4" height="4" fill="#8a0f33"/>
<text transform="translate(459.4 451.5) scale(0.91 1)" font-size="8.5" text-anchor="start">ZEB2-531</text>
<line x1="384.6" y1="591.2" x2="384.6" y2="699.2" stroke="#111" stroke-width="1.5"/>
<line x1="384" y1="698.5" x2="511.3" y2="698.5" stroke="#111" stroke-width="1.4"/>
<line x1="381.9" y1="698.5" x2="384.5" y2="698.5" stroke="#111" stroke-width="1"/>
<text transform="translate(377.6 701.55) scale(0.92 1)" font-size="8.5" text-anchor="end">0%</text>
<line x1="381.9" y1="681.13" x2="384.5" y2="681.13" stroke="#111" stroke-width="1"/>
<text transform="translate(377.6 684.18) scale(0.92 1)" font-size="8.5" text-anchor="end">20%</text>
<line x1="381.9" y1="663.77" x2="384.5" y2="663.77" stroke="#111" stroke-width="1"/>
<text transform="translate(377.6 666.82) scale(0.92 1)" font-size="8.5" text-anchor="end">40%</text>
<line x1="381.9" y1="646.4" x2="384.5" y2="646.4" stroke="#111" stroke-width="1"/>
<text transform="translate(377.6 649.45) scale(0.92 1)" font-size="8.5" text-anchor="end">60%</text>
<line x1="381.9" y1="629.03" x2="384.5" y2="629.03" stroke="#111" stroke-width="1"/>
<text transform="translate(377.6 632.08) scale(0.92 1)" font-size="8.5" text-anchor="end">80%</text>
<line x1="381.9" y1="611.67" x2="384.5" y2="611.67" stroke="#111" stroke-width="1"/>
<text transform="translate(377.6 614.72) scale(0.92 1)" font-size="8.5" text-anchor="end">100%</text>
<line x1="381.9" y1="594.3" x2="384.5" y2="594.3" stroke="#111" stroke-width="1"/>
<text transform="translate(377.6 597.35) scale(0.92 1)" font-size="8.5" text-anchor="end">120%</text>
<line x1="384.5" y1="698.5" x2="384.5" y2="701.8" stroke="#111" stroke-width="1"/>
<text transform="translate(384.5 711.5) scale(0.95 1)" font-size="8.5" text-anchor="middle">4</text>
<line x1="425.75" y1="698.5" x2="425.75" y2="701.8" stroke="#111" stroke-width="1"/>
<text transform="translate(425.75 711.5) scale(0.95 1)" font-size="8.5" text-anchor="middle">9</text>
<line x1="467" y1="698.5" x2="467" y2="701.8" stroke="#111" stroke-width="1"/>
<text transform="translate(467 711.5) scale(0.95 1)" font-size="8.5" text-anchor="middle">14</text>
<line x1="508.25" y1="698.5" x2="508.25" y2="701.8" stroke="#111" stroke-width="1"/>
<text transform="translate(508.85 711.5) scale(0.95 1)" font-size="8.5" text-anchor="middle">19</text>
<text transform="translate(448 725.3) scale(0.89 1)" font-size="10" text-anchor="middle">Day post infection</text>
<text transform="translate(352 643.3) rotate(-90) scale(0.87 1)" font-size="10" text-anchor="middle">Normalized %GFP+ cells</text>
<text transform="translate(448 585.3)" font-size="9.9" text-anchor="middle" class="b">THP-1</text>
<polyline points="384.5,611.67 417.5,614.2 458.75,624 500,622.5" fill="none" stroke="#0c0c0c" stroke-width="1.8" stroke-linejoin="round"/>
<line x1="417.5" y1="608.5" x2="417.5" y2="619.8" stroke="#111" stroke-width="1.2"/>
<line x1="414" y1="608.5" x2="421" y2="608.5" stroke="#111" stroke-width="1.2"/>
<line x1="414" y1="619.8" x2="421" y2="619.8" stroke="#111" stroke-width="1.2"/>
<line x1="458.75" y1="619.8" x2="458.75" y2="627.3" stroke="#111" stroke-width="1.2"/>
<line x1="455.25" y1="619.8" x2="462.25" y2="619.8" stroke="#111" stroke-width="1.2"/>
<line x1="455.25" y1="627.3" x2="462.25" y2="627.3" stroke="#111" stroke-width="1.2"/>
<line x1="500" y1="616.8" x2="500" y2="628" stroke="#111" stroke-width="1.2"/>
<line x1="496.5" y1="616.8" x2="503.5" y2="616.8" stroke="#111" stroke-width="1.2"/>
<line x1="496.5" y1="628" x2="503.5" y2="628" stroke="#111" stroke-width="1.2"/>
<circle cx="384.5" cy="611.67" r="2.5" fill="#0c0c0c"/>
<circle cx="417.5" cy="614.2" r="2.5" fill="#0c0c0c"/>
<circle cx="458.75" cy="624" r="2.5" fill="#0c0c0c"/>
<circle cx="500" cy="622.5" r="2.5" fill="#0c0c0c"/>
<polyline points="384.5,611.67 417.5,635.3 458.75,660.8 500,673.5" fill="none" stroke="#960f35" stroke-width="1.8" stroke-linejoin="round"/>
<line x1="417.5" y1="632.3" x2="417.5" y2="638" stroke="#6e0a26" stroke-width="1.2"/>
<line x1="414" y1="632.3" x2="421" y2="632.3" stroke="#6e0a26" stroke-width="1.2"/>
<line x1="414" y1="638" x2="421" y2="638" stroke="#6e0a26" stroke-width="1.2"/>
<line x1="458.75" y1="658.5" x2="458.75" y2="663" stroke="#6e0a26" stroke-width="1.2"/>
<line x1="455.25" y1="658.5" x2="462.25" y2="658.5" stroke="#6e0a26" stroke-width="1.2"/>
<line x1="455.25" y1="663" x2="462.25" y2="663" stroke="#6e0a26" stroke-width="1.2"/>
<line x1="500" y1="669.5" x2="500" y2="677.5" stroke="#6e0a26" stroke-width="1.2"/>
<line x1="496.5" y1="669.5" x2="503.5" y2="669.5" stroke="#6e0a26" stroke-width="1.2"/>
<line x1="496.5" y1="677.5" x2="503.5" y2="677.5" stroke="#6e0a26" stroke-width="1.2"/>
<rect x="382.3" y="609.47" width="4.4" height="4.4" fill="#960f35"/>
<rect x="415.3" y="633.1" width="4.4" height="4.4" fill="#960f35"/>
<rect x="456.55" y="658.6" width="4.4" height="4.4" fill="#960f35"/>
<rect x="497.8" y="671.3" width="4.4" height="4.4" fill="#960f35"/>
<line x1="389.4" y1="678.1" x2="405.2" y2="678.1" stroke="#0c0c0c" stroke-width="1.5"/>
<circle cx="397.2" cy="678.1" r="2.15" fill="#0c0c0c"/>
<text transform="translate(408.1 681.1) scale(0.91 1)" font-size="8.5" text-anchor="start">ZEB2-531-sc</text>
<line x1="389.4" y1="688.7" x2="405.2" y2="688.7" stroke="#8a0f33" stroke-width="1.5"/>
<rect x="395.2" y="686.7" width="4" height="4" fill="#8a0f33"/>
<text transform="translate(408.1 691.7) scale(0.91 1)" font-size="8.5" text-anchor="start">ZEB2-531</text>
<rect x="0.7" y="0.7" width="518.6" height="733.6" fill="none" stroke="#000" stroke-width="1.4"/>
</svg>
</body></html>
